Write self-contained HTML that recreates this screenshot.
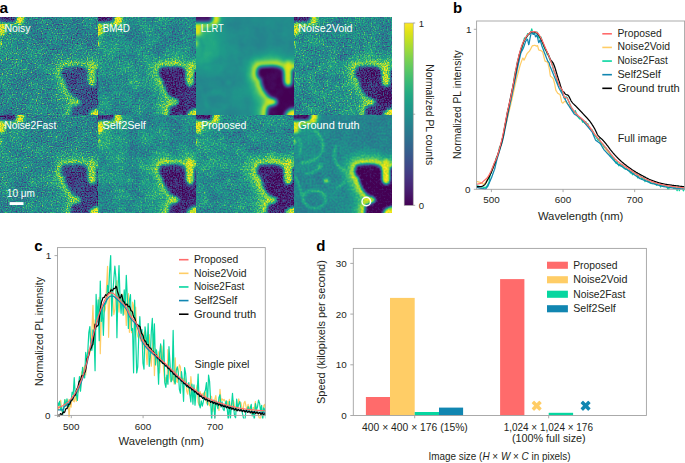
<!DOCTYPE html><html><head><meta charset="utf-8"><style>html,body{margin:0;padding:0;background:#fff;overflow:hidden;width:685px;height:463px;} svg{display:block;} text{font-family:"Liberation Sans", sans-serif;}</style></head><body>
<svg width="685" height="463" viewBox="0 0 685 463">
<rect width="685" height="463" fill="#fff"/>
<defs>
<clipPath id="cc"><rect x="0" y="0" width="98" height="98"/></clipPath>
<filter id="hb1" x="-20" y="-20" width="140" height="140" filterUnits="userSpaceOnUse"><feGaussianBlur stdDeviation="0.9"/></filter>
<filter id="hb" x="-20" y="-20" width="140" height="140" filterUnits="userSpaceOnUse"><feGaussianBlur stdDeviation="1.6"/></filter>
<filter id="hb2" x="-20" y="-20" width="140" height="140" filterUnits="userSpaceOnUse"><feGaussianBlur stdDeviation="4"/></filter>
<filter id="hb3" x="-20" y="-20" width="140" height="140" filterUnits="userSpaceOnUse"><feGaussianBlur stdDeviation="8"/></filter>
<filter id="f1" x="-6" y="-6" width="110" height="110" filterUnits="userSpaceOnUse" color-interpolation-filters="sRGB"><feGaussianBlur in="SourceGraphic" stdDeviation="0.2" result="s"/><feTurbulence type="fractalNoise" baseFrequency="0.8" numOctaves="1" seed="1" result="t"/><feColorMatrix in="t" type="matrix" values="1 0 0 0 0 1 0 0 0 0 1 0 0 0 0 0 0 0 0 1" result="gn"/><feTurbulence type="fractalNoise" baseFrequency="0.07" numOctaves="2" seed="21" result="t2"/><feColorMatrix in="t2" type="matrix" values="1 0 0 0 0 1 0 0 0 0 1 0 0 0 0 0 0 0 0 1" result="gl"/><feComposite in="s" in2="gl" operator="arithmetic" k1="0" k2="1" k3="0.22" k4="-0.1100" result="s2"/><feComposite in="s2" in2="gn" operator="arithmetic" k1="0" k2="1" k3="1.1" k4="-0.5500" result="s3"/><feTurbulence type="fractalNoise" baseFrequency="0.85" numOctaves="1" seed="41" result="t3"/><feColorMatrix in="t3" type="matrix" values="1 0 0 0 0 1 0 0 0 0 1 0 0 0 0 0 0 0 0 1"/><feComponentTransfer result="sp"><feFuncR type="linear" slope="4" intercept="-2.6"/><feFuncG type="linear" slope="4" intercept="-2.6"/><feFuncB type="linear" slope="4" intercept="-2.6"/></feComponentTransfer><feComposite in="s3" in2="sp" operator="arithmetic" k1="0" k2="1" k3="0.35" k4="0"/><feGaussianBlur stdDeviation="0.45"/><feComponentTransfer><feFuncR type="table" tableValues="0.2667 0.2784 0.2824 0.2745 0.2549 0.2314 0.2078 0.1843 0.1647 0.1451 0.1294 0.1176 0.1333 0.1843 0.2667 0.3686 0.4784 0.6078 0.7412 0.8745 0.9922"/><feFuncG type="table" tableValues="0.0039 0.0745 0.1412 0.2039 0.2667 0.3216 0.3725 0.4235 0.4706 0.5176 0.5686 0.6118 0.6588 0.7059 0.7490 0.7882 0.8196 0.8510 0.8745 0.8902 0.9059"/><feFuncB type="table" tableValues="0.3294 0.3961 0.4588 0.5020 0.5294 0.5451 0.5529 0.5569 0.5569 0.5569 0.5490 0.5373 0.5176 0.4863 0.4392 0.3843 0.3176 0.2353 0.1490 0.0941 0.1451"/></feComponentTransfer></filter>
<filter id="f2" x="-6" y="-6" width="110" height="110" filterUnits="userSpaceOnUse" color-interpolation-filters="sRGB"><feGaussianBlur in="SourceGraphic" stdDeviation="0.3" result="s"/><feTurbulence type="fractalNoise" baseFrequency="0.7" numOctaves="1" seed="2" result="t"/><feColorMatrix in="t" type="matrix" values="1 0 0 0 0 1 0 0 0 0 1 0 0 0 0 0 0 0 0 1" result="gn"/><feTurbulence type="fractalNoise" baseFrequency="0.07" numOctaves="2" seed="22" result="t2"/><feColorMatrix in="t2" type="matrix" values="1 0 0 0 0 1 0 0 0 0 1 0 0 0 0 0 0 0 0 1" result="gl"/><feComposite in="s" in2="gl" operator="arithmetic" k1="0" k2="1" k3="0.28" k4="-0.1400" result="s2"/><feComposite in="s2" in2="gn" operator="arithmetic" k1="0" k2="1" k3="0.85" k4="-0.4250" result="s3"/><feTurbulence type="fractalNoise" baseFrequency="0.85" numOctaves="1" seed="42" result="t3"/><feColorMatrix in="t3" type="matrix" values="1 0 0 0 0 1 0 0 0 0 1 0 0 0 0 0 0 0 0 1"/><feComponentTransfer result="sp"><feFuncR type="linear" slope="4" intercept="-2.6"/><feFuncG type="linear" slope="4" intercept="-2.6"/><feFuncB type="linear" slope="4" intercept="-2.6"/></feComponentTransfer><feComposite in="s3" in2="sp" operator="arithmetic" k1="0" k2="1" k3="0.3" k4="0"/><feGaussianBlur stdDeviation="0.4"/><feComponentTransfer><feFuncR type="table" tableValues="0.2667 0.2784 0.2824 0.2745 0.2549 0.2314 0.2078 0.1843 0.1647 0.1451 0.1294 0.1176 0.1333 0.1843 0.2667 0.3686 0.4784 0.6078 0.7412 0.8745 0.9922"/><feFuncG type="table" tableValues="0.0039 0.0745 0.1412 0.2039 0.2667 0.3216 0.3725 0.4235 0.4706 0.5176 0.5686 0.6118 0.6588 0.7059 0.7490 0.7882 0.8196 0.8510 0.8745 0.8902 0.9059"/><feFuncB type="table" tableValues="0.3294 0.3961 0.4588 0.5020 0.5294 0.5451 0.5529 0.5569 0.5569 0.5569 0.5490 0.5373 0.5176 0.4863 0.4392 0.3843 0.3176 0.2353 0.1490 0.0941 0.1451"/></feComponentTransfer></filter>
<filter id="f3" x="-6" y="-6" width="110" height="110" filterUnits="userSpaceOnUse" color-interpolation-filters="sRGB"><feGaussianBlur in="SourceGraphic" stdDeviation="1.3" result="s"/><feTurbulence type="fractalNoise" baseFrequency="0.3" numOctaves="1" seed="3" result="t"/><feColorMatrix in="t" type="matrix" values="1 0 0 0 0 1 0 0 0 0 1 0 0 0 0 0 0 0 0 1" result="gn"/><feTurbulence type="fractalNoise" baseFrequency="0.07" numOctaves="2" seed="23" result="t2"/><feColorMatrix in="t2" type="matrix" values="1 0 0 0 0 1 0 0 0 0 1 0 0 0 0 0 0 0 0 1" result="gl"/><feComposite in="s" in2="gl" operator="arithmetic" k1="0" k2="1" k3="0.1" k4="-0.0500" result="s2"/><feComposite in="s2" in2="gn" operator="arithmetic" k1="0" k2="1" k3="0.03" k4="-0.0150" result="s3"/><feTurbulence type="fractalNoise" baseFrequency="0.85" numOctaves="1" seed="43" result="t3"/><feColorMatrix in="t3" type="matrix" values="1 0 0 0 0 1 0 0 0 0 1 0 0 0 0 0 0 0 0 1"/><feComponentTransfer result="sp"><feFuncR type="linear" slope="4" intercept="-2.6"/><feFuncG type="linear" slope="4" intercept="-2.6"/><feFuncB type="linear" slope="4" intercept="-2.6"/></feComponentTransfer><feComposite in="s3" in2="sp" operator="arithmetic" k1="0" k2="1" k3="0" k4="0"/><feGaussianBlur stdDeviation="0.3"/><feComponentTransfer><feFuncR type="table" tableValues="0.2667 0.2784 0.2824 0.2745 0.2549 0.2314 0.2078 0.1843 0.1647 0.1451 0.1294 0.1176 0.1333 0.1843 0.2667 0.3686 0.4784 0.6078 0.7412 0.8745 0.9922"/><feFuncG type="table" tableValues="0.0039 0.0745 0.1412 0.2039 0.2667 0.3216 0.3725 0.4235 0.4706 0.5176 0.5686 0.6118 0.6588 0.7059 0.7490 0.7882 0.8196 0.8510 0.8745 0.8902 0.9059"/><feFuncB type="table" tableValues="0.3294 0.3961 0.4588 0.5020 0.5294 0.5451 0.5529 0.5569 0.5569 0.5569 0.5490 0.5373 0.5176 0.4863 0.4392 0.3843 0.3176 0.2353 0.1490 0.0941 0.1451"/></feComponentTransfer></filter>
<filter id="f4" x="-6" y="-6" width="110" height="110" filterUnits="userSpaceOnUse" color-interpolation-filters="sRGB"><feGaussianBlur in="SourceGraphic" stdDeviation="0.3" result="s"/><feTurbulence type="fractalNoise" baseFrequency="0.75" numOctaves="1" seed="4" result="t"/><feColorMatrix in="t" type="matrix" values="1 0 0 0 0 1 0 0 0 0 1 0 0 0 0 0 0 0 0 1" result="gn"/><feTurbulence type="fractalNoise" baseFrequency="0.07" numOctaves="2" seed="24" result="t2"/><feColorMatrix in="t2" type="matrix" values="1 0 0 0 0 1 0 0 0 0 1 0 0 0 0 0 0 0 0 1" result="gl"/><feComposite in="s" in2="gl" operator="arithmetic" k1="0" k2="1" k3="0.25" k4="-0.1250" result="s2"/><feComposite in="s2" in2="gn" operator="arithmetic" k1="0" k2="1" k3="0.95" k4="-0.4750" result="s3"/><feTurbulence type="fractalNoise" baseFrequency="0.85" numOctaves="1" seed="44" result="t3"/><feColorMatrix in="t3" type="matrix" values="1 0 0 0 0 1 0 0 0 0 1 0 0 0 0 0 0 0 0 1"/><feComponentTransfer result="sp"><feFuncR type="linear" slope="4" intercept="-2.6"/><feFuncG type="linear" slope="4" intercept="-2.6"/><feFuncB type="linear" slope="4" intercept="-2.6"/></feComponentTransfer><feComposite in="s3" in2="sp" operator="arithmetic" k1="0" k2="1" k3="0.35" k4="0"/><feGaussianBlur stdDeviation="0.4"/><feComponentTransfer><feFuncR type="table" tableValues="0.2667 0.2784 0.2824 0.2745 0.2549 0.2314 0.2078 0.1843 0.1647 0.1451 0.1294 0.1176 0.1333 0.1843 0.2667 0.3686 0.4784 0.6078 0.7412 0.8745 0.9922"/><feFuncG type="table" tableValues="0.0039 0.0745 0.1412 0.2039 0.2667 0.3216 0.3725 0.4235 0.4706 0.5176 0.5686 0.6118 0.6588 0.7059 0.7490 0.7882 0.8196 0.8510 0.8745 0.8902 0.9059"/><feFuncB type="table" tableValues="0.3294 0.3961 0.4588 0.5020 0.5294 0.5451 0.5529 0.5569 0.5569 0.5569 0.5490 0.5373 0.5176 0.4863 0.4392 0.3843 0.3176 0.2353 0.1490 0.0941 0.1451"/></feComponentTransfer></filter>
<filter id="f5" x="-6" y="-6" width="110" height="110" filterUnits="userSpaceOnUse" color-interpolation-filters="sRGB"><feGaussianBlur in="SourceGraphic" stdDeviation="0.2" result="s"/><feTurbulence type="fractalNoise" baseFrequency="0.8" numOctaves="1" seed="5" result="t"/><feColorMatrix in="t" type="matrix" values="1 0 0 0 0 1 0 0 0 0 1 0 0 0 0 0 0 0 0 1" result="gn"/><feTurbulence type="fractalNoise" baseFrequency="0.07" numOctaves="2" seed="25" result="t2"/><feColorMatrix in="t2" type="matrix" values="1 0 0 0 0 1 0 0 0 0 1 0 0 0 0 0 0 0 0 1" result="gl"/><feComposite in="s" in2="gl" operator="arithmetic" k1="0" k2="1" k3="0.22" k4="-0.1100" result="s2"/><feComposite in="s2" in2="gn" operator="arithmetic" k1="0" k2="1" k3="1.05" k4="-0.5250" result="s3"/><feTurbulence type="fractalNoise" baseFrequency="0.85" numOctaves="1" seed="45" result="t3"/><feColorMatrix in="t3" type="matrix" values="1 0 0 0 0 1 0 0 0 0 1 0 0 0 0 0 0 0 0 1"/><feComponentTransfer result="sp"><feFuncR type="linear" slope="4" intercept="-2.6"/><feFuncG type="linear" slope="4" intercept="-2.6"/><feFuncB type="linear" slope="4" intercept="-2.6"/></feComponentTransfer><feComposite in="s3" in2="sp" operator="arithmetic" k1="0" k2="1" k3="0.35" k4="0"/><feGaussianBlur stdDeviation="0.45"/><feComponentTransfer><feFuncR type="table" tableValues="0.2667 0.2784 0.2824 0.2745 0.2549 0.2314 0.2078 0.1843 0.1647 0.1451 0.1294 0.1176 0.1333 0.1843 0.2667 0.3686 0.4784 0.6078 0.7412 0.8745 0.9922"/><feFuncG type="table" tableValues="0.0039 0.0745 0.1412 0.2039 0.2667 0.3216 0.3725 0.4235 0.4706 0.5176 0.5686 0.6118 0.6588 0.7059 0.7490 0.7882 0.8196 0.8510 0.8745 0.8902 0.9059"/><feFuncB type="table" tableValues="0.3294 0.3961 0.4588 0.5020 0.5294 0.5451 0.5529 0.5569 0.5569 0.5569 0.5490 0.5373 0.5176 0.4863 0.4392 0.3843 0.3176 0.2353 0.1490 0.0941 0.1451"/></feComponentTransfer></filter>
<filter id="f6" x="-6" y="-6" width="110" height="110" filterUnits="userSpaceOnUse" color-interpolation-filters="sRGB"><feGaussianBlur in="SourceGraphic" stdDeviation="0.3" result="s"/><feTurbulence type="fractalNoise" baseFrequency="0.7" numOctaves="1" seed="6" result="t"/><feColorMatrix in="t" type="matrix" values="1 0 0 0 0 1 0 0 0 0 1 0 0 0 0 0 0 0 0 1" result="gn"/><feTurbulence type="fractalNoise" baseFrequency="0.07" numOctaves="2" seed="26" result="t2"/><feColorMatrix in="t2" type="matrix" values="1 0 0 0 0 1 0 0 0 0 1 0 0 0 0 0 0 0 0 1" result="gl"/><feComposite in="s" in2="gl" operator="arithmetic" k1="0" k2="1" k3="0.28" k4="-0.1400" result="s2"/><feComposite in="s2" in2="gn" operator="arithmetic" k1="0" k2="1" k3="0.75" k4="-0.3750" result="s3"/><feTurbulence type="fractalNoise" baseFrequency="0.85" numOctaves="1" seed="46" result="t3"/><feColorMatrix in="t3" type="matrix" values="1 0 0 0 0 1 0 0 0 0 1 0 0 0 0 0 0 0 0 1"/><feComponentTransfer result="sp"><feFuncR type="linear" slope="4" intercept="-2.6"/><feFuncG type="linear" slope="4" intercept="-2.6"/><feFuncB type="linear" slope="4" intercept="-2.6"/></feComponentTransfer><feComposite in="s3" in2="sp" operator="arithmetic" k1="0" k2="1" k3="0.3" k4="0"/><feGaussianBlur stdDeviation="0.3"/><feComponentTransfer><feFuncR type="table" tableValues="0.2667 0.2784 0.2824 0.2745 0.2549 0.2314 0.2078 0.1843 0.1647 0.1451 0.1294 0.1176 0.1333 0.1843 0.2667 0.3686 0.4784 0.6078 0.7412 0.8745 0.9922"/><feFuncG type="table" tableValues="0.0039 0.0745 0.1412 0.2039 0.2667 0.3216 0.3725 0.4235 0.4706 0.5176 0.5686 0.6118 0.6588 0.7059 0.7490 0.7882 0.8196 0.8510 0.8745 0.8902 0.9059"/><feFuncB type="table" tableValues="0.3294 0.3961 0.4588 0.5020 0.5294 0.5451 0.5529 0.5569 0.5569 0.5569 0.5490 0.5373 0.5176 0.4863 0.4392 0.3843 0.3176 0.2353 0.1490 0.0941 0.1451"/></feComponentTransfer></filter>
<filter id="f7" x="-6" y="-6" width="110" height="110" filterUnits="userSpaceOnUse" color-interpolation-filters="sRGB"><feGaussianBlur in="SourceGraphic" stdDeviation="0.3" result="s"/><feTurbulence type="fractalNoise" baseFrequency="0.7" numOctaves="1" seed="7" result="t"/><feColorMatrix in="t" type="matrix" values="1 0 0 0 0 1 0 0 0 0 1 0 0 0 0 0 0 0 0 1" result="gn"/><feTurbulence type="fractalNoise" baseFrequency="0.07" numOctaves="2" seed="27" result="t2"/><feColorMatrix in="t2" type="matrix" values="1 0 0 0 0 1 0 0 0 0 1 0 0 0 0 0 0 0 0 1" result="gl"/><feComposite in="s" in2="gl" operator="arithmetic" k1="0" k2="1" k3="0.28" k4="-0.1400" result="s2"/><feComposite in="s2" in2="gn" operator="arithmetic" k1="0" k2="1" k3="0.8" k4="-0.4000" result="s3"/><feTurbulence type="fractalNoise" baseFrequency="0.85" numOctaves="1" seed="47" result="t3"/><feColorMatrix in="t3" type="matrix" values="1 0 0 0 0 1 0 0 0 0 1 0 0 0 0 0 0 0 0 1"/><feComponentTransfer result="sp"><feFuncR type="linear" slope="4" intercept="-2.6"/><feFuncG type="linear" slope="4" intercept="-2.6"/><feFuncB type="linear" slope="4" intercept="-2.6"/></feComponentTransfer><feComposite in="s3" in2="sp" operator="arithmetic" k1="0" k2="1" k3="0.3" k4="0"/><feGaussianBlur stdDeviation="0.3"/><feComponentTransfer><feFuncR type="table" tableValues="0.2667 0.2784 0.2824 0.2745 0.2549 0.2314 0.2078 0.1843 0.1647 0.1451 0.1294 0.1176 0.1333 0.1843 0.2667 0.3686 0.4784 0.6078 0.7412 0.8745 0.9922"/><feFuncG type="table" tableValues="0.0039 0.0745 0.1412 0.2039 0.2667 0.3216 0.3725 0.4235 0.4706 0.5176 0.5686 0.6118 0.6588 0.7059 0.7490 0.7882 0.8196 0.8510 0.8745 0.8902 0.9059"/><feFuncB type="table" tableValues="0.3294 0.3961 0.4588 0.5020 0.5294 0.5451 0.5529 0.5569 0.5569 0.5569 0.5490 0.5373 0.5176 0.4863 0.4392 0.3843 0.3176 0.2353 0.1490 0.0941 0.1451"/></feComponentTransfer></filter>
<filter id="f8" x="-6" y="-6" width="110" height="110" filterUnits="userSpaceOnUse" color-interpolation-filters="sRGB"><feGaussianBlur in="SourceGraphic" stdDeviation="0.6" result="s"/><feTurbulence type="fractalNoise" baseFrequency="0.5" numOctaves="1" seed="8" result="t"/><feColorMatrix in="t" type="matrix" values="1 0 0 0 0 1 0 0 0 0 1 0 0 0 0 0 0 0 0 1" result="gn"/><feTurbulence type="fractalNoise" baseFrequency="0.07" numOctaves="2" seed="28" result="t2"/><feColorMatrix in="t2" type="matrix" values="1 0 0 0 0 1 0 0 0 0 1 0 0 0 0 0 0 0 0 1" result="gl"/><feComposite in="s" in2="gl" operator="arithmetic" k1="0" k2="1" k3="0.12" k4="-0.0600" result="s2"/><feComposite in="s2" in2="gn" operator="arithmetic" k1="0" k2="1" k3="0.25" k4="-0.1250" result="s3"/><feTurbulence type="fractalNoise" baseFrequency="0.85" numOctaves="1" seed="48" result="t3"/><feColorMatrix in="t3" type="matrix" values="1 0 0 0 0 1 0 0 0 0 1 0 0 0 0 0 0 0 0 1"/><feComponentTransfer result="sp"><feFuncR type="linear" slope="4" intercept="-2.6"/><feFuncG type="linear" slope="4" intercept="-2.6"/><feFuncB type="linear" slope="4" intercept="-2.6"/></feComponentTransfer><feComposite in="s3" in2="sp" operator="arithmetic" k1="0" k2="1" k3="0" k4="0"/><feGaussianBlur stdDeviation="0.3"/><feComponentTransfer><feFuncR type="table" tableValues="0.2667 0.2784 0.2824 0.2745 0.2549 0.2314 0.2078 0.1843 0.1647 0.1451 0.1294 0.1176 0.1333 0.1843 0.2667 0.3686 0.4784 0.6078 0.7412 0.8745 0.9922"/><feFuncG type="table" tableValues="0.0039 0.0745 0.1412 0.2039 0.2667 0.3216 0.3725 0.4235 0.4706 0.5176 0.5686 0.6118 0.6588 0.7059 0.7490 0.7882 0.8196 0.8510 0.8745 0.8902 0.9059"/><feFuncB type="table" tableValues="0.3294 0.3961 0.4588 0.5020 0.5294 0.5451 0.5529 0.5569 0.5569 0.5569 0.5490 0.5373 0.5176 0.4863 0.4392 0.3843 0.3176 0.2353 0.1490 0.0941 0.1451"/></feComponentTransfer></filter>
</defs>
<g transform="translate(0,17)" clip-path="url(#cc)">
<g filter="url(#f1)">
<rect x="-6" y="-6" width="110" height="110" fill="#717171"/>
<g filter="url(#hb3)"><ellipse cx="8" cy="26" rx="20" ry="30" fill="#808080"/><ellipse cx="48" cy="78" rx="10" ry="22" fill="#7e7e7e"/></g>
<g filter="url(#hb1)" fill="none" stroke="#868686" stroke-width="2"><path d="M20,15 C27,21 31,29 28,37 C25,43 16,48 6,48"/><path d="M4,22 C8,28 8,34 5,42"/><path d="M42,30 C39,38 40,46 45,52 C47,54 50,55 52,56"/><path d="M10.8,58.8 C15,59 20,58 27,52"/><path d="M8.6,82.6 C9,78 13,76 18,75.5 C24,75 29,77 31.5,82 C33,88 29,92 22,93.5 C16,94 10,90 8.6,82.6 Z"/><path d="M43,73 C46,71 48,69 51,67"/><path d="M0,60 C4,66 6,72 8,80"/></g>
<g filter="url(#hb)" fill="#a4a4a4"><ellipse cx="32.4" cy="65.8" rx="2.6" ry="2"/><ellipse cx="26" cy="51" rx="1.5" ry="1.3"/></g>
<g filter="url(#hb2)" fill="none"><path d="M61.7,52.3 C62.2,50.5 63.2,49.7 64.3,49.7 L75.9,49 C79,49 82,49.5 83.7,50.3 C86,51.2 87.4,52.5 87.6,53.6 C88.2,56 88.4,59 88.3,61.3 C88.3,64 89,68.5 92.2,68.5 C95,68.5 95.4,66 95.4,63 L95.4,54 C95.4,52.8 96.5,52.3 98,52.3 L104,52.3 L104,104 L70.8,104 L70.8,98 C70.8,95 71,93.5 71.4,92.5 C71.7,90.5 72,89.5 72.5,89.2 C74,88.7 75.5,88.3 76.5,87.7 C79,86.8 80.5,86.5 80.5,85 C80.5,83.5 79.5,83 78,82.5 C76.5,82 74.5,81 72.7,79.5 C71.5,78.5 70.8,77.5 70.2,76.5 C69,75 68.2,74.3 67.5,72.5 C66.9,70.4 65.5,67.5 64.9,65.9 C64.6,64.5 65.6,63.6 65,62.8 C64,62 62,61 61.7,60 C61,58 60.8,56.5 61,54.9 C61.1,53.8 61.3,53 61.7,52.3 Z" stroke="#8f8f8f" stroke-width="24"/><path d="M-6,-6 L16.5,-6 L16.5,1.5 C16.5,4.5 14.5,5.5 11.5,5.5 L-6,5.5 Z" stroke="#8a8a8a" stroke-width="14"/></g>
<g filter="url(#hb)"><path d="M61.7,52.3 C62.2,50.5 63.2,49.7 64.3,49.7 L75.9,49 C79,49 82,49.5 83.7,50.3 C86,51.2 87.4,52.5 87.6,53.6 C88.2,56 88.4,59 88.3,61.3 C88.3,64 89,68.5 92.2,68.5 C95,68.5 95.4,66 95.4,63 L95.4,54 C95.4,52.8 96.5,52.3 98,52.3 L104,52.3 L104,104 L70.8,104 L70.8,98 C70.8,95 71,93.5 71.4,92.5 C71.7,90.5 72,89.5 72.5,89.2 C74,88.7 75.5,88.3 76.5,87.7 C79,86.8 80.5,86.5 80.5,85 C80.5,83.5 79.5,83 78,82.5 C76.5,82 74.5,81 72.7,79.5 C71.5,78.5 70.8,77.5 70.2,76.5 C69,75 68.2,74.3 67.5,72.5 C66.9,70.4 65.5,67.5 64.9,65.9 C64.6,64.5 65.6,63.6 65,62.8 C64,62 62,61 61.7,60 C61,58 60.8,56.5 61,54.9 C61.1,53.8 61.3,53 61.7,52.3 Z" fill="none" stroke="#bdbdbd" stroke-width="10"/><path d="M-6,-6 L16.5,-6 L16.5,1.5 C16.5,4.5 14.5,5.5 11.5,5.5 L-6,5.5 Z" fill="none" stroke="#bdbdbd" stroke-width="7"/><rect x="-3" y="23.5" width="4.5" height="6" rx="2" fill="#f7f7f7"/><ellipse cx="19.5" cy="1.5" rx="4" ry="6.5" fill="#ffffff"/><rect x="-3" y="4.5" width="8.5" height="14" rx="3.5" fill="#f2f2f2"/></g>
<g filter="url(#hb)"><path d="M61.7,52.3 C62.2,50.5 63.2,49.7 64.3,49.7 L75.9,49 C79,49 82,49.5 83.7,50.3 C86,51.2 87.4,52.5 87.6,53.6 C88.2,56 88.4,59 88.3,61.3 C88.3,64 89,68.5 92.2,68.5 C95,68.5 95.4,66 95.4,63 L95.4,54 C95.4,52.8 96.5,52.3 98,52.3 L104,52.3 L104,104 L70.8,104 L70.8,98 C70.8,95 71,93.5 71.4,92.5 C71.7,90.5 72,89.5 72.5,89.2 C74,88.7 75.5,88.3 76.5,87.7 C79,86.8 80.5,86.5 80.5,85 C80.5,83.5 79.5,83 78,82.5 C76.5,82 74.5,81 72.7,79.5 C71.5,78.5 70.8,77.5 70.2,76.5 C69,75 68.2,74.3 67.5,72.5 C66.9,70.4 65.5,67.5 64.9,65.9 C64.6,64.5 65.6,63.6 65,62.8 C64,62 62,61 61.7,60 C61,58 60.8,56.5 61,54.9 C61.1,53.8 61.3,53 61.7,52.3 Z" fill="#404040"/><path d="M-6,-6 L16.5,-6 L16.5,1.5 C16.5,4.5 14.5,5.5 11.5,5.5 L-6,5.5 Z" fill="#2b2b2b"/></g>
<g filter="url(#hb)"><rect x="89" y="44" width="6.2" height="24.5" rx="3.1" fill="#c9c9c9"/><ellipse cx="99" cy="99" rx="10" ry="7.5" fill="#f7f7f7"/><ellipse cx="75.5" cy="85" rx="5" ry="2.8" fill="#bdbdbd"/></g>
</g>
</g>
<text x="4.50" y="31.50" font-size="10" text-anchor="start" fill="#fff" font-weight="normal" textLength="26.0" lengthAdjust="spacingAndGlyphs" >Noisy</text>
<g transform="translate(98,17)" clip-path="url(#cc)">
<g filter="url(#f2)">
<rect x="-6" y="-6" width="110" height="110" fill="#787878"/>
<g filter="url(#hb3)"><ellipse cx="8" cy="26" rx="20" ry="30" fill="#858585"/><ellipse cx="48" cy="78" rx="10" ry="22" fill="#858585"/></g>
<g filter="url(#hb1)" fill="none" stroke="#8c8c8c" stroke-width="2"><path d="M20,15 C27,21 31,29 28,37 C25,43 16,48 6,48"/><path d="M4,22 C8,28 8,34 5,42"/><path d="M42,30 C39,38 40,46 45,52 C47,54 50,55 52,56"/><path d="M10.8,58.8 C15,59 20,58 27,52"/><path d="M8.6,82.6 C9,78 13,76 18,75.5 C24,75 29,77 31.5,82 C33,88 29,92 22,93.5 C16,94 10,90 8.6,82.6 Z"/><path d="M43,73 C46,71 48,69 51,67"/><path d="M0,60 C4,66 6,72 8,80"/></g>
<g filter="url(#hb)" fill="#ababab"><ellipse cx="32.4" cy="65.8" rx="2.6" ry="2"/><ellipse cx="26" cy="51" rx="1.5" ry="1.3"/></g>
<g filter="url(#hb2)" fill="none"><path d="M61.7,52.3 C62.2,50.5 63.2,49.7 64.3,49.7 L75.9,49 C79,49 82,49.5 83.7,50.3 C86,51.2 87.4,52.5 87.6,53.6 C88.2,56 88.4,59 88.3,61.3 C88.3,64 89,68.5 92.2,68.5 C95,68.5 95.4,66 95.4,63 L95.4,54 C95.4,52.8 96.5,52.3 98,52.3 L104,52.3 L104,104 L70.8,104 L70.8,98 C70.8,95 71,93.5 71.4,92.5 C71.7,90.5 72,89.5 72.5,89.2 C74,88.7 75.5,88.3 76.5,87.7 C79,86.8 80.5,86.5 80.5,85 C80.5,83.5 79.5,83 78,82.5 C76.5,82 74.5,81 72.7,79.5 C71.5,78.5 70.8,77.5 70.2,76.5 C69,75 68.2,74.3 67.5,72.5 C66.9,70.4 65.5,67.5 64.9,65.9 C64.6,64.5 65.6,63.6 65,62.8 C64,62 62,61 61.7,60 C61,58 60.8,56.5 61,54.9 C61.1,53.8 61.3,53 61.7,52.3 Z" stroke="#9e9e9e" stroke-width="24"/><path d="M-6,-6 L16.5,-6 L16.5,1.5 C16.5,4.5 14.5,5.5 11.5,5.5 L-6,5.5 Z" stroke="#999999" stroke-width="14"/></g>
<g filter="url(#hb)"><path d="M61.7,52.3 C62.2,50.5 63.2,49.7 64.3,49.7 L75.9,49 C79,49 82,49.5 83.7,50.3 C86,51.2 87.4,52.5 87.6,53.6 C88.2,56 88.4,59 88.3,61.3 C88.3,64 89,68.5 92.2,68.5 C95,68.5 95.4,66 95.4,63 L95.4,54 C95.4,52.8 96.5,52.3 98,52.3 L104,52.3 L104,104 L70.8,104 L70.8,98 C70.8,95 71,93.5 71.4,92.5 C71.7,90.5 72,89.5 72.5,89.2 C74,88.7 75.5,88.3 76.5,87.7 C79,86.8 80.5,86.5 80.5,85 C80.5,83.5 79.5,83 78,82.5 C76.5,82 74.5,81 72.7,79.5 C71.5,78.5 70.8,77.5 70.2,76.5 C69,75 68.2,74.3 67.5,72.5 C66.9,70.4 65.5,67.5 64.9,65.9 C64.6,64.5 65.6,63.6 65,62.8 C64,62 62,61 61.7,60 C61,58 60.8,56.5 61,54.9 C61.1,53.8 61.3,53 61.7,52.3 Z" fill="none" stroke="#cccccc" stroke-width="9"/><path d="M-6,-6 L16.5,-6 L16.5,1.5 C16.5,4.5 14.5,5.5 11.5,5.5 L-6,5.5 Z" fill="none" stroke="#cccccc" stroke-width="7"/><rect x="-3" y="23.5" width="4.5" height="6" rx="2" fill="#f7f7f7"/><ellipse cx="19.5" cy="1.5" rx="4" ry="6.5" fill="#ffffff"/><rect x="-3" y="4.5" width="8.5" height="14" rx="3.5" fill="#f2f2f2"/></g>
<g filter="url(#hb)"><path d="M61.7,52.3 C62.2,50.5 63.2,49.7 64.3,49.7 L75.9,49 C79,49 82,49.5 83.7,50.3 C86,51.2 87.4,52.5 87.6,53.6 C88.2,56 88.4,59 88.3,61.3 C88.3,64 89,68.5 92.2,68.5 C95,68.5 95.4,66 95.4,63 L95.4,54 C95.4,52.8 96.5,52.3 98,52.3 L104,52.3 L104,104 L70.8,104 L70.8,98 C70.8,95 71,93.5 71.4,92.5 C71.7,90.5 72,89.5 72.5,89.2 C74,88.7 75.5,88.3 76.5,87.7 C79,86.8 80.5,86.5 80.5,85 C80.5,83.5 79.5,83 78,82.5 C76.5,82 74.5,81 72.7,79.5 C71.5,78.5 70.8,77.5 70.2,76.5 C69,75 68.2,74.3 67.5,72.5 C66.9,70.4 65.5,67.5 64.9,65.9 C64.6,64.5 65.6,63.6 65,62.8 C64,62 62,61 61.7,60 C61,58 60.8,56.5 61,54.9 C61.1,53.8 61.3,53 61.7,52.3 Z" fill="#1f1f1f"/><path d="M-6,-6 L16.5,-6 L16.5,1.5 C16.5,4.5 14.5,5.5 11.5,5.5 L-6,5.5 Z" fill="#171717"/></g>
<g filter="url(#hb)"><rect x="89" y="44" width="6.2" height="24.5" rx="3.1" fill="#d9d9d9"/><ellipse cx="99" cy="99" rx="10" ry="7.5" fill="#f7f7f7"/><ellipse cx="75.5" cy="85" rx="5" ry="2.8" fill="#cccccc"/></g>
</g>
</g>
<text x="102.65" y="31.80" font-size="10" text-anchor="start" fill="#fff" font-weight="normal" textLength="27.2" lengthAdjust="spacingAndGlyphs" >BM4D</text>
<g transform="translate(196,17)" clip-path="url(#cc)">
<g filter="url(#f3)">
<rect x="-6" y="-6" width="110" height="110" fill="#787878"/>
<g filter="url(#hb3)"><ellipse cx="8" cy="26" rx="20" ry="30" fill="#999999"/><ellipse cx="48" cy="78" rx="10" ry="22" fill="#858585"/></g>
<g filter="url(#hb1)" fill="none" stroke="#858585" stroke-width="2"><path d="M20,15 C27,21 31,29 28,37 C25,43 16,48 6,48"/><path d="M4,22 C8,28 8,34 5,42"/><path d="M42,30 C39,38 40,46 45,52 C47,54 50,55 52,56"/><path d="M10.8,58.8 C15,59 20,58 27,52"/><path d="M8.6,82.6 C9,78 13,76 18,75.5 C24,75 29,77 31.5,82 C33,88 29,92 22,93.5 C16,94 10,90 8.6,82.6 Z"/><path d="M43,73 C46,71 48,69 51,67"/><path d="M0,60 C4,66 6,72 8,80"/></g>
<g filter="url(#hb)" fill="#989898"><ellipse cx="32.4" cy="65.8" rx="2.6" ry="2"/><ellipse cx="26" cy="51" rx="1.5" ry="1.3"/></g>
<g filter="url(#hb2)" fill="none"><path d="M61.7,52.3 C62.2,50.5 63.2,49.7 64.3,49.7 L75.9,49 C79,49 82,49.5 83.7,50.3 C86,51.2 87.4,52.5 87.6,53.6 C88.2,56 88.4,59 88.3,61.3 C88.3,64 89,68.5 92.2,68.5 C95,68.5 95.4,66 95.4,63 L95.4,54 C95.4,52.8 96.5,52.3 98,52.3 L104,52.3 L104,104 L70.8,104 L70.8,98 C70.8,95 71,93.5 71.4,92.5 C71.7,90.5 72,89.5 72.5,89.2 C74,88.7 75.5,88.3 76.5,87.7 C79,86.8 80.5,86.5 80.5,85 C80.5,83.5 79.5,83 78,82.5 C76.5,82 74.5,81 72.7,79.5 C71.5,78.5 70.8,77.5 70.2,76.5 C69,75 68.2,74.3 67.5,72.5 C66.9,70.4 65.5,67.5 64.9,65.9 C64.6,64.5 65.6,63.6 65,62.8 C64,62 62,61 61.7,60 C61,58 60.8,56.5 61,54.9 C61.1,53.8 61.3,53 61.7,52.3 Z" stroke="#bdbdbd" stroke-width="20"/><path d="M-6,-6 L16.5,-6 L16.5,1.5 C16.5,4.5 14.5,5.5 11.5,5.5 L-6,5.5 Z" stroke="#b8b8b8" stroke-width="14"/></g>
<g filter="url(#hb)"><path d="M61.7,52.3 C62.2,50.5 63.2,49.7 64.3,49.7 L75.9,49 C79,49 82,49.5 83.7,50.3 C86,51.2 87.4,52.5 87.6,53.6 C88.2,56 88.4,59 88.3,61.3 C88.3,64 89,68.5 92.2,68.5 C95,68.5 95.4,66 95.4,63 L95.4,54 C95.4,52.8 96.5,52.3 98,52.3 L104,52.3 L104,104 L70.8,104 L70.8,98 C70.8,95 71,93.5 71.4,92.5 C71.7,90.5 72,89.5 72.5,89.2 C74,88.7 75.5,88.3 76.5,87.7 C79,86.8 80.5,86.5 80.5,85 C80.5,83.5 79.5,83 78,82.5 C76.5,82 74.5,81 72.7,79.5 C71.5,78.5 70.8,77.5 70.2,76.5 C69,75 68.2,74.3 67.5,72.5 C66.9,70.4 65.5,67.5 64.9,65.9 C64.6,64.5 65.6,63.6 65,62.8 C64,62 62,61 61.7,60 C61,58 60.8,56.5 61,54.9 C61.1,53.8 61.3,53 61.7,52.3 Z" fill="none" stroke="#ebebeb" stroke-width="10"/><path d="M-6,-6 L16.5,-6 L16.5,1.5 C16.5,4.5 14.5,5.5 11.5,5.5 L-6,5.5 Z" fill="none" stroke="#ebebeb" stroke-width="7"/><rect x="-3" y="23.5" width="4.5" height="6" rx="2" fill="#f7f7f7"/><ellipse cx="19.5" cy="1.5" rx="4" ry="6.5" fill="#ffffff"/><rect x="-3" y="4.5" width="8.5" height="14" rx="3.5" fill="#f2f2f2"/></g>
<g filter="url(#hb)"><path d="M61.7,52.3 C62.2,50.5 63.2,49.7 64.3,49.7 L75.9,49 C79,49 82,49.5 83.7,50.3 C86,51.2 87.4,52.5 87.6,53.6 C88.2,56 88.4,59 88.3,61.3 C88.3,64 89,68.5 92.2,68.5 C95,68.5 95.4,66 95.4,63 L95.4,54 C95.4,52.8 96.5,52.3 98,52.3 L104,52.3 L104,104 L70.8,104 L70.8,98 C70.8,95 71,93.5 71.4,92.5 C71.7,90.5 72,89.5 72.5,89.2 C74,88.7 75.5,88.3 76.5,87.7 C79,86.8 80.5,86.5 80.5,85 C80.5,83.5 79.5,83 78,82.5 C76.5,82 74.5,81 72.7,79.5 C71.5,78.5 70.8,77.5 70.2,76.5 C69,75 68.2,74.3 67.5,72.5 C66.9,70.4 65.5,67.5 64.9,65.9 C64.6,64.5 65.6,63.6 65,62.8 C64,62 62,61 61.7,60 C61,58 60.8,56.5 61,54.9 C61.1,53.8 61.3,53 61.7,52.3 Z" fill="#050505"/><path d="M-6,-6 L16.5,-6 L16.5,1.5 C16.5,4.5 14.5,5.5 11.5,5.5 L-6,5.5 Z" fill="#080808"/></g>
<g filter="url(#hb)"><rect x="89" y="44" width="6.2" height="24.5" rx="3.1" fill="#f7f7f7"/><ellipse cx="99" cy="99" rx="10" ry="7.5" fill="#f7f7f7"/><ellipse cx="75.5" cy="85" rx="5" ry="2.8" fill="#ebebeb"/></g>
</g>
</g>
<text x="201.10" y="31.60" font-size="10" text-anchor="start" fill="#fff" font-weight="normal" textLength="22.5" lengthAdjust="spacingAndGlyphs" >LLRT</text>
<g transform="translate(294,17)" clip-path="url(#cc)">
<g filter="url(#f4)">
<rect x="-6" y="-6" width="110" height="110" fill="#787878"/>
<g filter="url(#hb3)"><ellipse cx="8" cy="26" rx="20" ry="30" fill="#808080"/><ellipse cx="48" cy="78" rx="10" ry="22" fill="#858585"/></g>
<g filter="url(#hb1)" fill="none" stroke="#8c8c8c" stroke-width="2"><path d="M20,15 C27,21 31,29 28,37 C25,43 16,48 6,48"/><path d="M4,22 C8,28 8,34 5,42"/><path d="M42,30 C39,38 40,46 45,52 C47,54 50,55 52,56"/><path d="M10.8,58.8 C15,59 20,58 27,52"/><path d="M8.6,82.6 C9,78 13,76 18,75.5 C24,75 29,77 31.5,82 C33,88 29,92 22,93.5 C16,94 10,90 8.6,82.6 Z"/><path d="M43,73 C46,71 48,69 51,67"/><path d="M0,60 C4,66 6,72 8,80"/></g>
<g filter="url(#hb)" fill="#ababab"><ellipse cx="32.4" cy="65.8" rx="2.6" ry="2"/><ellipse cx="26" cy="51" rx="1.5" ry="1.3"/></g>
<g filter="url(#hb2)" fill="none"><path d="M61.7,52.3 C62.2,50.5 63.2,49.7 64.3,49.7 L75.9,49 C79,49 82,49.5 83.7,50.3 C86,51.2 87.4,52.5 87.6,53.6 C88.2,56 88.4,59 88.3,61.3 C88.3,64 89,68.5 92.2,68.5 C95,68.5 95.4,66 95.4,63 L95.4,54 C95.4,52.8 96.5,52.3 98,52.3 L104,52.3 L104,104 L70.8,104 L70.8,98 C70.8,95 71,93.5 71.4,92.5 C71.7,90.5 72,89.5 72.5,89.2 C74,88.7 75.5,88.3 76.5,87.7 C79,86.8 80.5,86.5 80.5,85 C80.5,83.5 79.5,83 78,82.5 C76.5,82 74.5,81 72.7,79.5 C71.5,78.5 70.8,77.5 70.2,76.5 C69,75 68.2,74.3 67.5,72.5 C66.9,70.4 65.5,67.5 64.9,65.9 C64.6,64.5 65.6,63.6 65,62.8 C64,62 62,61 61.7,60 C61,58 60.8,56.5 61,54.9 C61.1,53.8 61.3,53 61.7,52.3 Z" stroke="#9e9e9e" stroke-width="24"/><path d="M-6,-6 L16.5,-6 L16.5,1.5 C16.5,4.5 14.5,5.5 11.5,5.5 L-6,5.5 Z" stroke="#999999" stroke-width="14"/></g>
<g filter="url(#hb)"><path d="M61.7,52.3 C62.2,50.5 63.2,49.7 64.3,49.7 L75.9,49 C79,49 82,49.5 83.7,50.3 C86,51.2 87.4,52.5 87.6,53.6 C88.2,56 88.4,59 88.3,61.3 C88.3,64 89,68.5 92.2,68.5 C95,68.5 95.4,66 95.4,63 L95.4,54 C95.4,52.8 96.5,52.3 98,52.3 L104,52.3 L104,104 L70.8,104 L70.8,98 C70.8,95 71,93.5 71.4,92.5 C71.7,90.5 72,89.5 72.5,89.2 C74,88.7 75.5,88.3 76.5,87.7 C79,86.8 80.5,86.5 80.5,85 C80.5,83.5 79.5,83 78,82.5 C76.5,82 74.5,81 72.7,79.5 C71.5,78.5 70.8,77.5 70.2,76.5 C69,75 68.2,74.3 67.5,72.5 C66.9,70.4 65.5,67.5 64.9,65.9 C64.6,64.5 65.6,63.6 65,62.8 C64,62 62,61 61.7,60 C61,58 60.8,56.5 61,54.9 C61.1,53.8 61.3,53 61.7,52.3 Z" fill="none" stroke="#cccccc" stroke-width="10"/><path d="M-6,-6 L16.5,-6 L16.5,1.5 C16.5,4.5 14.5,5.5 11.5,5.5 L-6,5.5 Z" fill="none" stroke="#cccccc" stroke-width="7"/><rect x="-3" y="23.5" width="4.5" height="6" rx="2" fill="#f7f7f7"/><ellipse cx="19.5" cy="1.5" rx="4" ry="6.5" fill="#ffffff"/><rect x="-3" y="4.5" width="8.5" height="14" rx="3.5" fill="#f2f2f2"/></g>
<g filter="url(#hb)"><path d="M61.7,52.3 C62.2,50.5 63.2,49.7 64.3,49.7 L75.9,49 C79,49 82,49.5 83.7,50.3 C86,51.2 87.4,52.5 87.6,53.6 C88.2,56 88.4,59 88.3,61.3 C88.3,64 89,68.5 92.2,68.5 C95,68.5 95.4,66 95.4,63 L95.4,54 C95.4,52.8 96.5,52.3 98,52.3 L104,52.3 L104,104 L70.8,104 L70.8,98 C70.8,95 71,93.5 71.4,92.5 C71.7,90.5 72,89.5 72.5,89.2 C74,88.7 75.5,88.3 76.5,87.7 C79,86.8 80.5,86.5 80.5,85 C80.5,83.5 79.5,83 78,82.5 C76.5,82 74.5,81 72.7,79.5 C71.5,78.5 70.8,77.5 70.2,76.5 C69,75 68.2,74.3 67.5,72.5 C66.9,70.4 65.5,67.5 64.9,65.9 C64.6,64.5 65.6,63.6 65,62.8 C64,62 62,61 61.7,60 C61,58 60.8,56.5 61,54.9 C61.1,53.8 61.3,53 61.7,52.3 Z" fill="#1f1f1f"/><path d="M-6,-6 L16.5,-6 L16.5,1.5 C16.5,4.5 14.5,5.5 11.5,5.5 L-6,5.5 Z" fill="#171717"/></g>
<g filter="url(#hb)"><rect x="89" y="44" width="6.2" height="24.5" rx="3.1" fill="#d9d9d9"/><ellipse cx="99" cy="99" rx="10" ry="7.5" fill="#f7f7f7"/><ellipse cx="75.5" cy="85" rx="5" ry="2.8" fill="#cccccc"/></g>
</g>
</g>
<text x="298.30" y="31.80" font-size="10" text-anchor="start" fill="#fff" font-weight="normal" textLength="54.2" lengthAdjust="spacingAndGlyphs" >Noise2Void</text>
<g transform="translate(0,115)" clip-path="url(#cc)">
<g filter="url(#f5)">
<rect x="-6" y="-6" width="110" height="110" fill="#737373"/>
<g filter="url(#hb3)"><ellipse cx="8" cy="26" rx="20" ry="30" fill="#808080"/><ellipse cx="48" cy="78" rx="10" ry="22" fill="#808080"/></g>
<g filter="url(#hb1)" fill="none" stroke="#878787" stroke-width="2"><path d="M20,15 C27,21 31,29 28,37 C25,43 16,48 6,48"/><path d="M4,22 C8,28 8,34 5,42"/><path d="M42,30 C39,38 40,46 45,52 C47,54 50,55 52,56"/><path d="M10.8,58.8 C15,59 20,58 27,52"/><path d="M8.6,82.6 C9,78 13,76 18,75.5 C24,75 29,77 31.5,82 C33,88 29,92 22,93.5 C16,94 10,90 8.6,82.6 Z"/><path d="M43,73 C46,71 48,69 51,67"/><path d="M0,60 C4,66 6,72 8,80"/></g>
<g filter="url(#hb)" fill="#a6a6a6"><ellipse cx="32.4" cy="65.8" rx="2.6" ry="2"/><ellipse cx="26" cy="51" rx="1.5" ry="1.3"/></g>
<g filter="url(#hb2)" fill="none"><path d="M61.7,52.3 C62.2,50.5 63.2,49.7 64.3,49.7 L75.9,49 C79,49 82,49.5 83.7,50.3 C86,51.2 87.4,52.5 87.6,53.6 C88.2,56 88.4,59 88.3,61.3 C88.3,64 89,68.5 92.2,68.5 C95,68.5 95.4,66 95.4,63 L95.4,54 C95.4,52.8 96.5,52.3 98,52.3 L104,52.3 L104,104 L70.8,104 L70.8,98 C70.8,95 71,93.5 71.4,92.5 C71.7,90.5 72,89.5 72.5,89.2 C74,88.7 75.5,88.3 76.5,87.7 C79,86.8 80.5,86.5 80.5,85 C80.5,83.5 79.5,83 78,82.5 C76.5,82 74.5,81 72.7,79.5 C71.5,78.5 70.8,77.5 70.2,76.5 C69,75 68.2,74.3 67.5,72.5 C66.9,70.4 65.5,67.5 64.9,65.9 C64.6,64.5 65.6,63.6 65,62.8 C64,62 62,61 61.7,60 C61,58 60.8,56.5 61,54.9 C61.1,53.8 61.3,53 61.7,52.3 Z" stroke="#969696" stroke-width="24"/><path d="M-6,-6 L16.5,-6 L16.5,1.5 C16.5,4.5 14.5,5.5 11.5,5.5 L-6,5.5 Z" stroke="#919191" stroke-width="14"/></g>
<g filter="url(#hb)"><path d="M61.7,52.3 C62.2,50.5 63.2,49.7 64.3,49.7 L75.9,49 C79,49 82,49.5 83.7,50.3 C86,51.2 87.4,52.5 87.6,53.6 C88.2,56 88.4,59 88.3,61.3 C88.3,64 89,68.5 92.2,68.5 C95,68.5 95.4,66 95.4,63 L95.4,54 C95.4,52.8 96.5,52.3 98,52.3 L104,52.3 L104,104 L70.8,104 L70.8,98 C70.8,95 71,93.5 71.4,92.5 C71.7,90.5 72,89.5 72.5,89.2 C74,88.7 75.5,88.3 76.5,87.7 C79,86.8 80.5,86.5 80.5,85 C80.5,83.5 79.5,83 78,82.5 C76.5,82 74.5,81 72.7,79.5 C71.5,78.5 70.8,77.5 70.2,76.5 C69,75 68.2,74.3 67.5,72.5 C66.9,70.4 65.5,67.5 64.9,65.9 C64.6,64.5 65.6,63.6 65,62.8 C64,62 62,61 61.7,60 C61,58 60.8,56.5 61,54.9 C61.1,53.8 61.3,53 61.7,52.3 Z" fill="none" stroke="#c4c4c4" stroke-width="10"/><path d="M-6,-6 L16.5,-6 L16.5,1.5 C16.5,4.5 14.5,5.5 11.5,5.5 L-6,5.5 Z" fill="none" stroke="#c4c4c4" stroke-width="7"/><rect x="-3" y="23.5" width="4.5" height="6" rx="2" fill="#f7f7f7"/><ellipse cx="19.5" cy="1.5" rx="4" ry="6.5" fill="#ffffff"/><rect x="-3" y="4.5" width="8.5" height="14" rx="3.5" fill="#f2f2f2"/></g>
<g filter="url(#hb)"><path d="M61.7,52.3 C62.2,50.5 63.2,49.7 64.3,49.7 L75.9,49 C79,49 82,49.5 83.7,50.3 C86,51.2 87.4,52.5 87.6,53.6 C88.2,56 88.4,59 88.3,61.3 C88.3,64 89,68.5 92.2,68.5 C95,68.5 95.4,66 95.4,63 L95.4,54 C95.4,52.8 96.5,52.3 98,52.3 L104,52.3 L104,104 L70.8,104 L70.8,98 C70.8,95 71,93.5 71.4,92.5 C71.7,90.5 72,89.5 72.5,89.2 C74,88.7 75.5,88.3 76.5,87.7 C79,86.8 80.5,86.5 80.5,85 C80.5,83.5 79.5,83 78,82.5 C76.5,82 74.5,81 72.7,79.5 C71.5,78.5 70.8,77.5 70.2,76.5 C69,75 68.2,74.3 67.5,72.5 C66.9,70.4 65.5,67.5 64.9,65.9 C64.6,64.5 65.6,63.6 65,62.8 C64,62 62,61 61.7,60 C61,58 60.8,56.5 61,54.9 C61.1,53.8 61.3,53 61.7,52.3 Z" fill="#333333"/><path d="M-6,-6 L16.5,-6 L16.5,1.5 C16.5,4.5 14.5,5.5 11.5,5.5 L-6,5.5 Z" fill="#242424"/></g>
<g filter="url(#hb)"><rect x="89" y="44" width="6.2" height="24.5" rx="3.1" fill="#d1d1d1"/><ellipse cx="99" cy="99" rx="10" ry="7.5" fill="#f7f7f7"/><ellipse cx="75.5" cy="85" rx="5" ry="2.8" fill="#c4c4c4"/></g>
</g>
</g>
<text x="4.30" y="129.30" font-size="10" text-anchor="start" fill="#fff" font-weight="normal" textLength="52.0" lengthAdjust="spacingAndGlyphs" >Noise2Fast</text>
<g transform="translate(98,115)" clip-path="url(#cc)">
<g filter="url(#f6)">
<rect x="-6" y="-6" width="110" height="110" fill="#787878"/>
<g filter="url(#hb3)"><ellipse cx="8" cy="26" rx="20" ry="30" fill="#8c8c8c"/><ellipse cx="48" cy="78" rx="10" ry="22" fill="#858585"/></g>
<g filter="url(#hb1)" fill="none" stroke="#8c8c8c" stroke-width="2"><path d="M20,15 C27,21 31,29 28,37 C25,43 16,48 6,48"/><path d="M4,22 C8,28 8,34 5,42"/><path d="M42,30 C39,38 40,46 45,52 C47,54 50,55 52,56"/><path d="M10.8,58.8 C15,59 20,58 27,52"/><path d="M8.6,82.6 C9,78 13,76 18,75.5 C24,75 29,77 31.5,82 C33,88 29,92 22,93.5 C16,94 10,90 8.6,82.6 Z"/><path d="M43,73 C46,71 48,69 51,67"/><path d="M0,60 C4,66 6,72 8,80"/></g>
<g filter="url(#hb)" fill="#ababab"><ellipse cx="32.4" cy="65.8" rx="2.6" ry="2"/><ellipse cx="26" cy="51" rx="1.5" ry="1.3"/></g>
<g filter="url(#hb2)" fill="none"><path d="M61.7,52.3 C62.2,50.5 63.2,49.7 64.3,49.7 L75.9,49 C79,49 82,49.5 83.7,50.3 C86,51.2 87.4,52.5 87.6,53.6 C88.2,56 88.4,59 88.3,61.3 C88.3,64 89,68.5 92.2,68.5 C95,68.5 95.4,66 95.4,63 L95.4,54 C95.4,52.8 96.5,52.3 98,52.3 L104,52.3 L104,104 L70.8,104 L70.8,98 C70.8,95 71,93.5 71.4,92.5 C71.7,90.5 72,89.5 72.5,89.2 C74,88.7 75.5,88.3 76.5,87.7 C79,86.8 80.5,86.5 80.5,85 C80.5,83.5 79.5,83 78,82.5 C76.5,82 74.5,81 72.7,79.5 C71.5,78.5 70.8,77.5 70.2,76.5 C69,75 68.2,74.3 67.5,72.5 C66.9,70.4 65.5,67.5 64.9,65.9 C64.6,64.5 65.6,63.6 65,62.8 C64,62 62,61 61.7,60 C61,58 60.8,56.5 61,54.9 C61.1,53.8 61.3,53 61.7,52.3 Z" stroke="#a3a3a3" stroke-width="24"/><path d="M-6,-6 L16.5,-6 L16.5,1.5 C16.5,4.5 14.5,5.5 11.5,5.5 L-6,5.5 Z" stroke="#9e9e9e" stroke-width="14"/></g>
<g filter="url(#hb)"><path d="M61.7,52.3 C62.2,50.5 63.2,49.7 64.3,49.7 L75.9,49 C79,49 82,49.5 83.7,50.3 C86,51.2 87.4,52.5 87.6,53.6 C88.2,56 88.4,59 88.3,61.3 C88.3,64 89,68.5 92.2,68.5 C95,68.5 95.4,66 95.4,63 L95.4,54 C95.4,52.8 96.5,52.3 98,52.3 L104,52.3 L104,104 L70.8,104 L70.8,98 C70.8,95 71,93.5 71.4,92.5 C71.7,90.5 72,89.5 72.5,89.2 C74,88.7 75.5,88.3 76.5,87.7 C79,86.8 80.5,86.5 80.5,85 C80.5,83.5 79.5,83 78,82.5 C76.5,82 74.5,81 72.7,79.5 C71.5,78.5 70.8,77.5 70.2,76.5 C69,75 68.2,74.3 67.5,72.5 C66.9,70.4 65.5,67.5 64.9,65.9 C64.6,64.5 65.6,63.6 65,62.8 C64,62 62,61 61.7,60 C61,58 60.8,56.5 61,54.9 C61.1,53.8 61.3,53 61.7,52.3 Z" fill="none" stroke="#d1d1d1" stroke-width="9"/><path d="M-6,-6 L16.5,-6 L16.5,1.5 C16.5,4.5 14.5,5.5 11.5,5.5 L-6,5.5 Z" fill="none" stroke="#d1d1d1" stroke-width="7"/><rect x="-3" y="23.5" width="4.5" height="6" rx="2" fill="#f7f7f7"/><ellipse cx="19.5" cy="1.5" rx="4" ry="6.5" fill="#ffffff"/><rect x="-3" y="4.5" width="8.5" height="14" rx="3.5" fill="#f2f2f2"/></g>
<g filter="url(#hb)"><path d="M61.7,52.3 C62.2,50.5 63.2,49.7 64.3,49.7 L75.9,49 C79,49 82,49.5 83.7,50.3 C86,51.2 87.4,52.5 87.6,53.6 C88.2,56 88.4,59 88.3,61.3 C88.3,64 89,68.5 92.2,68.5 C95,68.5 95.4,66 95.4,63 L95.4,54 C95.4,52.8 96.5,52.3 98,52.3 L104,52.3 L104,104 L70.8,104 L70.8,98 C70.8,95 71,93.5 71.4,92.5 C71.7,90.5 72,89.5 72.5,89.2 C74,88.7 75.5,88.3 76.5,87.7 C79,86.8 80.5,86.5 80.5,85 C80.5,83.5 79.5,83 78,82.5 C76.5,82 74.5,81 72.7,79.5 C71.5,78.5 70.8,77.5 70.2,76.5 C69,75 68.2,74.3 67.5,72.5 C66.9,70.4 65.5,67.5 64.9,65.9 C64.6,64.5 65.6,63.6 65,62.8 C64,62 62,61 61.7,60 C61,58 60.8,56.5 61,54.9 C61.1,53.8 61.3,53 61.7,52.3 Z" fill="#1a1a1a"/><path d="M-6,-6 L16.5,-6 L16.5,1.5 C16.5,4.5 14.5,5.5 11.5,5.5 L-6,5.5 Z" fill="#141414"/></g>
<g filter="url(#hb)"><rect x="89" y="44" width="6.2" height="24.5" rx="3.1" fill="#dedede"/><ellipse cx="99" cy="99" rx="10" ry="7.5" fill="#f7f7f7"/><ellipse cx="75.5" cy="85" rx="5" ry="2.8" fill="#d1d1d1"/></g>
</g>
</g>
<text x="102.50" y="129.30" font-size="10" text-anchor="start" fill="#fff" font-weight="normal" textLength="43.3" lengthAdjust="spacingAndGlyphs" >Self2Self</text>
<g transform="translate(196,115)" clip-path="url(#cc)">
<g filter="url(#f7)">
<rect x="-6" y="-6" width="110" height="110" fill="#787878"/>
<g filter="url(#hb3)"><ellipse cx="8" cy="26" rx="20" ry="30" fill="#8c8c8c"/><ellipse cx="48" cy="78" rx="10" ry="22" fill="#858585"/></g>
<g filter="url(#hb1)" fill="none" stroke="#8c8c8c" stroke-width="2"><path d="M20,15 C27,21 31,29 28,37 C25,43 16,48 6,48"/><path d="M4,22 C8,28 8,34 5,42"/><path d="M42,30 C39,38 40,46 45,52 C47,54 50,55 52,56"/><path d="M10.8,58.8 C15,59 20,58 27,52"/><path d="M8.6,82.6 C9,78 13,76 18,75.5 C24,75 29,77 31.5,82 C33,88 29,92 22,93.5 C16,94 10,90 8.6,82.6 Z"/><path d="M43,73 C46,71 48,69 51,67"/><path d="M0,60 C4,66 6,72 8,80"/></g>
<g filter="url(#hb)" fill="#ababab"><ellipse cx="32.4" cy="65.8" rx="2.6" ry="2"/><ellipse cx="26" cy="51" rx="1.5" ry="1.3"/></g>
<g filter="url(#hb2)" fill="none"><path d="M61.7,52.3 C62.2,50.5 63.2,49.7 64.3,49.7 L75.9,49 C79,49 82,49.5 83.7,50.3 C86,51.2 87.4,52.5 87.6,53.6 C88.2,56 88.4,59 88.3,61.3 C88.3,64 89,68.5 92.2,68.5 C95,68.5 95.4,66 95.4,63 L95.4,54 C95.4,52.8 96.5,52.3 98,52.3 L104,52.3 L104,104 L70.8,104 L70.8,98 C70.8,95 71,93.5 71.4,92.5 C71.7,90.5 72,89.5 72.5,89.2 C74,88.7 75.5,88.3 76.5,87.7 C79,86.8 80.5,86.5 80.5,85 C80.5,83.5 79.5,83 78,82.5 C76.5,82 74.5,81 72.7,79.5 C71.5,78.5 70.8,77.5 70.2,76.5 C69,75 68.2,74.3 67.5,72.5 C66.9,70.4 65.5,67.5 64.9,65.9 C64.6,64.5 65.6,63.6 65,62.8 C64,62 62,61 61.7,60 C61,58 60.8,56.5 61,54.9 C61.1,53.8 61.3,53 61.7,52.3 Z" stroke="#ababab" stroke-width="24"/><path d="M-6,-6 L16.5,-6 L16.5,1.5 C16.5,4.5 14.5,5.5 11.5,5.5 L-6,5.5 Z" stroke="#a6a6a6" stroke-width="14"/></g>
<g filter="url(#hb)"><path d="M61.7,52.3 C62.2,50.5 63.2,49.7 64.3,49.7 L75.9,49 C79,49 82,49.5 83.7,50.3 C86,51.2 87.4,52.5 87.6,53.6 C88.2,56 88.4,59 88.3,61.3 C88.3,64 89,68.5 92.2,68.5 C95,68.5 95.4,66 95.4,63 L95.4,54 C95.4,52.8 96.5,52.3 98,52.3 L104,52.3 L104,104 L70.8,104 L70.8,98 C70.8,95 71,93.5 71.4,92.5 C71.7,90.5 72,89.5 72.5,89.2 C74,88.7 75.5,88.3 76.5,87.7 C79,86.8 80.5,86.5 80.5,85 C80.5,83.5 79.5,83 78,82.5 C76.5,82 74.5,81 72.7,79.5 C71.5,78.5 70.8,77.5 70.2,76.5 C69,75 68.2,74.3 67.5,72.5 C66.9,70.4 65.5,67.5 64.9,65.9 C64.6,64.5 65.6,63.6 65,62.8 C64,62 62,61 61.7,60 C61,58 60.8,56.5 61,54.9 C61.1,53.8 61.3,53 61.7,52.3 Z" fill="none" stroke="#d9d9d9" stroke-width="9"/><path d="M-6,-6 L16.5,-6 L16.5,1.5 C16.5,4.5 14.5,5.5 11.5,5.5 L-6,5.5 Z" fill="none" stroke="#d9d9d9" stroke-width="7"/><rect x="-3" y="23.5" width="4.5" height="6" rx="2" fill="#f7f7f7"/><ellipse cx="19.5" cy="1.5" rx="4" ry="6.5" fill="#ffffff"/><rect x="-3" y="4.5" width="8.5" height="14" rx="3.5" fill="#f2f2f2"/></g>
<g filter="url(#hb)"><path d="M61.7,52.3 C62.2,50.5 63.2,49.7 64.3,49.7 L75.9,49 C79,49 82,49.5 83.7,50.3 C86,51.2 87.4,52.5 87.6,53.6 C88.2,56 88.4,59 88.3,61.3 C88.3,64 89,68.5 92.2,68.5 C95,68.5 95.4,66 95.4,63 L95.4,54 C95.4,52.8 96.5,52.3 98,52.3 L104,52.3 L104,104 L70.8,104 L70.8,98 C70.8,95 71,93.5 71.4,92.5 C71.7,90.5 72,89.5 72.5,89.2 C74,88.7 75.5,88.3 76.5,87.7 C79,86.8 80.5,86.5 80.5,85 C80.5,83.5 79.5,83 78,82.5 C76.5,82 74.5,81 72.7,79.5 C71.5,78.5 70.8,77.5 70.2,76.5 C69,75 68.2,74.3 67.5,72.5 C66.9,70.4 65.5,67.5 64.9,65.9 C64.6,64.5 65.6,63.6 65,62.8 C64,62 62,61 61.7,60 C61,58 60.8,56.5 61,54.9 C61.1,53.8 61.3,53 61.7,52.3 Z" fill="#141414"/><path d="M-6,-6 L16.5,-6 L16.5,1.5 C16.5,4.5 14.5,5.5 11.5,5.5 L-6,5.5 Z" fill="#111111"/></g>
<g filter="url(#hb)"><rect x="89" y="44" width="6.2" height="24.5" rx="3.1" fill="#e6e6e6"/><ellipse cx="99" cy="99" rx="10" ry="7.5" fill="#f7f7f7"/><ellipse cx="75.5" cy="85" rx="5" ry="2.8" fill="#d9d9d9"/></g>
</g>
</g>
<text x="201.30" y="129.30" font-size="10" text-anchor="start" fill="#fff" font-weight="normal" textLength="45.1" lengthAdjust="spacingAndGlyphs" >Proposed</text>
<g transform="translate(294,115)" clip-path="url(#cc)">
<g filter="url(#f8)">
<rect x="-6" y="-6" width="110" height="110" fill="#737373"/>
<g filter="url(#hb3)"><ellipse cx="8" cy="26" rx="20" ry="30" fill="#808080"/><ellipse cx="48" cy="78" rx="10" ry="22" fill="#808080"/></g>
<g filter="url(#hb1)" fill="none" stroke="#b5b5b5" stroke-width="2"><path d="M20,15 C27,21 31,29 28,37 C25,43 16,48 6,48"/><path d="M4,22 C8,28 8,34 5,42"/><path d="M42,30 C39,38 40,46 45,52 C47,54 50,55 52,56"/><path d="M10.8,58.8 C15,59 20,58 27,52"/><path d="M8.6,82.6 C9,78 13,76 18,75.5 C24,75 29,77 31.5,82 C33,88 29,92 22,93.5 C16,94 10,90 8.6,82.6 Z"/><path d="M43,73 C46,71 48,69 51,67"/><path d="M0,60 C4,66 6,72 8,80"/></g>
<g filter="url(#hb)" fill="#ffffff"><ellipse cx="32.4" cy="65.8" rx="2.6" ry="2"/><ellipse cx="26" cy="51" rx="1.5" ry="1.3"/></g>
<g filter="url(#hb2)" fill="none"><path d="M61.7,52.3 C62.2,50.5 63.2,49.7 64.3,49.7 L75.9,49 C79,49 82,49.5 83.7,50.3 C86,51.2 87.4,52.5 87.6,53.6 C88.2,56 88.4,59 88.3,61.3 C88.3,64 89,68.5 92.2,68.5 C95,68.5 95.4,66 95.4,63 L95.4,54 C95.4,52.8 96.5,52.3 98,52.3 L104,52.3 L104,104 L70.8,104 L70.8,98 C70.8,95 71,93.5 71.4,92.5 C71.7,90.5 72,89.5 72.5,89.2 C74,88.7 75.5,88.3 76.5,87.7 C79,86.8 80.5,86.5 80.5,85 C80.5,83.5 79.5,83 78,82.5 C76.5,82 74.5,81 72.7,79.5 C71.5,78.5 70.8,77.5 70.2,76.5 C69,75 68.2,74.3 67.5,72.5 C66.9,70.4 65.5,67.5 64.9,65.9 C64.6,64.5 65.6,63.6 65,62.8 C64,62 62,61 61.7,60 C61,58 60.8,56.5 61,54.9 C61.1,53.8 61.3,53 61.7,52.3 Z" stroke="#bdbdbd" stroke-width="20"/><path d="M-6,-6 L16.5,-6 L16.5,1.5 C16.5,4.5 14.5,5.5 11.5,5.5 L-6,5.5 Z" stroke="#b8b8b8" stroke-width="14"/></g>
<g filter="url(#hb)"><path d="M61.7,52.3 C62.2,50.5 63.2,49.7 64.3,49.7 L75.9,49 C79,49 82,49.5 83.7,50.3 C86,51.2 87.4,52.5 87.6,53.6 C88.2,56 88.4,59 88.3,61.3 C88.3,64 89,68.5 92.2,68.5 C95,68.5 95.4,66 95.4,63 L95.4,54 C95.4,52.8 96.5,52.3 98,52.3 L104,52.3 L104,104 L70.8,104 L70.8,98 C70.8,95 71,93.5 71.4,92.5 C71.7,90.5 72,89.5 72.5,89.2 C74,88.7 75.5,88.3 76.5,87.7 C79,86.8 80.5,86.5 80.5,85 C80.5,83.5 79.5,83 78,82.5 C76.5,82 74.5,81 72.7,79.5 C71.5,78.5 70.8,77.5 70.2,76.5 C69,75 68.2,74.3 67.5,72.5 C66.9,70.4 65.5,67.5 64.9,65.9 C64.6,64.5 65.6,63.6 65,62.8 C64,62 62,61 61.7,60 C61,58 60.8,56.5 61,54.9 C61.1,53.8 61.3,53 61.7,52.3 Z" fill="none" stroke="#ebebeb" stroke-width="9"/><path d="M-6,-6 L16.5,-6 L16.5,1.5 C16.5,4.5 14.5,5.5 11.5,5.5 L-6,5.5 Z" fill="none" stroke="#ebebeb" stroke-width="7"/><rect x="-3" y="23.5" width="4.5" height="6" rx="2" fill="#f7f7f7"/><ellipse cx="19.5" cy="1.5" rx="4" ry="6.5" fill="#ffffff"/><rect x="-3" y="4.5" width="8.5" height="14" rx="3.5" fill="#f2f2f2"/></g>
<g filter="url(#hb)"><path d="M61.7,52.3 C62.2,50.5 63.2,49.7 64.3,49.7 L75.9,49 C79,49 82,49.5 83.7,50.3 C86,51.2 87.4,52.5 87.6,53.6 C88.2,56 88.4,59 88.3,61.3 C88.3,64 89,68.5 92.2,68.5 C95,68.5 95.4,66 95.4,63 L95.4,54 C95.4,52.8 96.5,52.3 98,52.3 L104,52.3 L104,104 L70.8,104 L70.8,98 C70.8,95 71,93.5 71.4,92.5 C71.7,90.5 72,89.5 72.5,89.2 C74,88.7 75.5,88.3 76.5,87.7 C79,86.8 80.5,86.5 80.5,85 C80.5,83.5 79.5,83 78,82.5 C76.5,82 74.5,81 72.7,79.5 C71.5,78.5 70.8,77.5 70.2,76.5 C69,75 68.2,74.3 67.5,72.5 C66.9,70.4 65.5,67.5 64.9,65.9 C64.6,64.5 65.6,63.6 65,62.8 C64,62 62,61 61.7,60 C61,58 60.8,56.5 61,54.9 C61.1,53.8 61.3,53 61.7,52.3 Z" fill="#050505"/><path d="M-6,-6 L16.5,-6 L16.5,1.5 C16.5,4.5 14.5,5.5 11.5,5.5 L-6,5.5 Z" fill="#080808"/></g>
<g filter="url(#hb)"><rect x="89" y="44" width="6.2" height="24.5" rx="3.1" fill="#f7f7f7"/><ellipse cx="99" cy="99" rx="10" ry="7.5" fill="#f7f7f7"/><ellipse cx="75.5" cy="85" rx="5" ry="2.8" fill="#ebebeb"/></g>
</g>
</g>
<text x="298.30" y="129.30" font-size="10" text-anchor="start" fill="#fff" font-weight="normal" textLength="61.4" lengthAdjust="spacingAndGlyphs" >Ground truth</text>
<circle cx="366.3" cy="201.5" r="4.3" fill="none" stroke="#fff" stroke-width="1.4"/>
<rect x="9.6" y="202.1" width="13.9" height="2.9" fill="#fff"/>
<text x="6.80" y="197.00" font-size="10.6" text-anchor="start" fill="#fff" font-weight="normal" textLength="28.2" lengthAdjust="spacingAndGlyphs" >10 μm</text>
<text x="-0.60" y="12.60" font-size="15.5" text-anchor="start" fill="#000" font-weight="bold" >a</text>
<defs><linearGradient id="cb" x1="0" y1="0" x2="0" y2="1"><stop offset="0.000" stop-color="#fde725"/><stop offset="0.050" stop-color="#dfe318"/><stop offset="0.100" stop-color="#bddf26"/><stop offset="0.150" stop-color="#9bd93c"/><stop offset="0.200" stop-color="#7ad151"/><stop offset="0.250" stop-color="#5ec962"/><stop offset="0.300" stop-color="#44bf70"/><stop offset="0.350" stop-color="#2fb47c"/><stop offset="0.400" stop-color="#22a884"/><stop offset="0.450" stop-color="#1e9c89"/><stop offset="0.500" stop-color="#21918c"/><stop offset="0.550" stop-color="#25848e"/><stop offset="0.600" stop-color="#2a788e"/><stop offset="0.650" stop-color="#2f6c8e"/><stop offset="0.700" stop-color="#355f8d"/><stop offset="0.750" stop-color="#3b528b"/><stop offset="0.800" stop-color="#414487"/><stop offset="0.850" stop-color="#463480"/><stop offset="0.900" stop-color="#482475"/><stop offset="0.950" stop-color="#471365"/><stop offset="1.000" stop-color="#440154"/></linearGradient></defs>
<rect x="404.2" y="23" width="9" height="182.3" fill="url(#cb)" stroke="#9a9a9a" stroke-width="0.6"/>
<line x1="413.2" y1="23" x2="415.2" y2="23" stroke="#777" stroke-width="0.6"/>
<line x1="413.2" y1="114.2" x2="415.2" y2="114.2" stroke="#777" stroke-width="0.6"/>
<line x1="413.2" y1="205.3" x2="415.2" y2="205.3" stroke="#777" stroke-width="0.6"/>
<text x="418.80" y="26.80" font-size="9.6" text-anchor="start" fill="#231f20" font-weight="normal" >1</text>
<text x="418.80" y="208.60" font-size="9.6" text-anchor="start" fill="#231f20" font-weight="normal" >0</text>
<text transform="translate(426.1,64.2) rotate(90)" x="0" y="0" font-size="11" fill="#231f20" textLength="100.9" lengthAdjust="spacingAndGlyphs">Normalized PL counts</text>
<defs><clipPath id="cb_b"><rect x="476.6" y="16.0" width="208.0" height="178.3"/></clipPath></defs>
<g clip-path="url(#cb_b)" fill="none" stroke-width="1.25" stroke-linejoin="round">
<path d="M475.64,181.30 L476.00,181.35 L476.35,181.40 L476.71,181.45 L477.07,181.54 L477.43,181.64 L477.79,181.74 L478.14,181.83 L478.50,181.93 L478.86,182.03 L479.22,182.13 L479.58,182.23 L479.94,182.32 L480.29,182.42 L480.65,182.52 L481.01,182.67 L481.37,182.89 L481.73,183.12 L482.09,183.34 L482.44,183.56 L482.80,183.79 L483.16,184.01 L483.52,184.23 L483.88,184.46 L484.23,184.10 L484.59,183.60 L484.95,183.10 L485.31,182.60 L485.67,182.10 L486.03,181.60 L486.38,181.00 L486.74,180.25 L487.10,179.50 L487.46,178.75 L487.82,178.00 L488.18,177.25 L488.53,176.50 L488.89,175.90 L489.25,175.30 L489.61,174.70 L489.97,174.10 L490.33,173.50 L490.68,172.90 L491.04,172.30 L491.40,171.70 L491.76,170.90 L492.12,170.10 L492.47,169.30 L492.83,168.50 L493.19,167.70 L493.55,166.90 L493.91,166.10 L494.27,165.30 L494.62,164.50 L494.98,163.70 L495.34,162.90 L495.70,162.10 L496.06,160.97 L496.42,159.84 L496.77,158.71 L497.13,157.58 L497.49,156.45 L497.85,155.32 L498.21,154.19 L498.56,153.06 L498.92,151.94 L499.28,150.81 L499.64,149.68 L500.00,148.55 L500.36,147.42 L500.71,146.29 L501.07,145.16 L501.43,144.03 L501.79,142.90 L502.15,141.30 L502.51,139.70 L502.86,138.10 L503.22,136.50 L503.58,134.90 L503.94,133.30 L504.30,131.70 L504.66,130.10 L505.01,128.50 L505.37,126.90 L505.73,125.30 L506.09,123.81 L506.45,122.33 L506.80,120.84 L507.16,119.36 L507.52,117.87 L507.88,116.39 L508.24,114.90 L508.60,113.41 L508.95,111.93 L509.31,110.44 L509.67,108.96 L510.03,107.47 L510.39,105.99 L510.75,104.50 L511.10,102.90 L511.46,101.30 L511.82,99.70 L512.18,98.10 L512.54,96.50 L512.89,94.90 L513.25,93.30 L513.61,91.70 L513.97,90.10 L514.33,88.50 L514.69,86.90 L515.04,85.30 L515.40,83.70 L515.76,82.10 L516.12,80.50 L516.48,78.90 L516.84,77.57 L517.19,76.23 L517.55,74.90 L517.91,73.57 L518.27,72.23 L518.63,70.90 L518.99,69.55 L519.34,68.21 L519.70,66.86 L520.06,65.52 L520.42,64.38 L520.78,63.38 L521.13,62.38 L521.49,61.38 L521.85,60.38 L522.21,59.38 L522.57,58.38 L522.93,58.06 L523.28,58.78 L523.64,59.49 L524.00,60.20 L524.36,59.68 L524.72,58.87 L525.08,58.05 L525.43,57.23 L525.79,56.41 L526.15,55.59 L526.51,54.77 L526.87,53.95 L527.23,53.32 L527.58,52.96 L527.94,52.61 L528.30,52.25 L528.66,51.90 L529.02,51.54 L529.37,51.18 L529.73,50.76 L530.09,50.07 L530.45,49.38 L530.81,48.69 L531.17,47.99 L531.52,47.30 L531.88,46.61 L532.24,45.92 L532.60,45.73 L532.96,45.66 L533.32,45.59 L533.67,45.53 L534.03,45.46 L534.39,45.39 L534.75,45.33 L535.11,45.42 L535.46,45.62 L535.82,45.82 L536.18,46.02 L536.54,46.22 L536.90,45.94 L537.26,45.54 L537.61,45.83 L537.97,47.17 L538.33,48.50 L538.69,49.83 L539.05,50.16 L539.41,50.24 L539.76,50.32 L540.12,50.40 L540.48,50.48 L540.84,50.56 L541.20,50.79 L541.55,51.06 L541.91,51.33 L542.27,51.59 L542.63,51.86 L542.99,53.27 L543.35,54.67 L543.70,56.08 L544.06,57.48 L544.42,58.89 L544.78,60.30 L545.14,61.20 L545.50,61.35 L545.85,61.49 L546.21,61.64 L546.57,61.79 L546.93,61.94 L547.29,62.08 L547.65,62.23 L548.00,63.42 L548.36,64.88 L548.72,66.33 L549.08,67.79 L549.44,69.66 L549.79,72.17 L550.15,74.68 L550.51,76.29 L550.87,76.56 L551.23,76.84 L551.59,77.11 L551.94,77.38 L552.30,77.66 L552.66,77.93 L553.02,78.21 L553.38,79.25 L553.74,80.49 L554.09,81.72 L554.45,82.96 L554.81,84.52 L555.17,86.57 L555.53,88.62 L555.88,90.37 L556.24,90.92 L556.60,91.47 L556.96,92.03 L557.32,92.58 L557.68,93.13 L558.03,93.53 L558.39,93.69 L558.75,93.86 L559.11,94.03 L559.47,94.20 L559.83,94.37 L560.18,94.85 L560.54,96.57 L560.90,98.30 L561.26,100.03 L561.62,101.75 L561.98,102.38 L562.33,102.73 L562.69,103.08 L563.05,103.00 L563.41,102.62 L563.77,102.25 L564.12,101.88 L564.48,101.50 L564.84,101.13 L565.20,101.21 L565.56,101.60 L565.92,101.99 L566.27,102.38 L566.63,102.77 L566.99,103.16 L567.35,103.54 L567.71,103.98 L568.07,104.44 L568.42,104.90 L568.78,105.36 L569.14,105.82 L569.50,106.28 L569.86,106.74 L570.21,107.20 L570.57,107.66 L570.93,108.12 L571.29,108.58 L571.65,109.04 L572.01,109.50 L572.36,109.96 L572.72,110.42 L573.08,110.88 L573.44,111.34 L573.80,111.80 L574.16,112.26 L574.51,112.72 L574.87,113.18 L575.23,113.64 L575.59,114.10 L575.95,114.56 L576.31,114.95 L576.66,115.30 L577.02,115.65 L577.38,115.99 L577.74,116.34 L578.10,116.69 L578.45,117.04 L578.81,117.39 L579.17,117.73 L579.53,118.08 L579.89,118.43 L580.25,118.78 L580.60,119.13 L580.96,119.47 L581.32,119.82 L581.68,120.17 L582.04,120.52 L582.40,120.87 L582.75,121.22 L583.11,121.56 L583.47,121.91 L583.83,122.26 L584.19,122.61 L584.54,122.96 L584.90,123.30 L585.26,123.65 L585.62,124.00 L585.98,124.35 L586.34,124.70 L586.69,125.05 L587.05,125.39 L587.41,125.74 L587.77,126.09 L588.13,126.44 L588.49,126.79 L588.84,127.13 L589.20,127.48 L589.56,127.83 L589.92,128.18 L590.28,128.53 L590.64,128.87 L590.99,129.22 L591.35,129.57 L591.71,129.99 L592.07,130.50 L592.43,131.02 L592.78,131.53 L593.14,132.05 L593.50,132.56 L593.86,133.08 L594.22,133.59 L594.58,134.11 L594.93,134.62 L595.29,135.14 L595.65,135.65 L596.01,136.17 L596.37,136.68 L596.73,137.20 L597.08,137.71 L597.44,138.23 L597.80,138.74 L598.16,139.26 L598.52,139.77 L598.88,140.29 L599.23,140.80 L599.59,141.32 L599.95,141.83 L600.31,142.35 L600.67,142.86 L601.02,143.38 L601.38,143.89 L601.74,144.41 L602.10,144.91 L602.46,145.34 L602.82,145.78 L603.17,146.22 L603.53,146.66 L603.89,147.09 L604.25,147.53 L604.61,147.97 L604.97,148.40 L605.32,148.84 L605.68,149.28 L606.04,149.72 L606.40,150.15 L606.76,150.59 L607.11,151.03 L607.47,151.46 L607.83,151.90 L608.19,152.34 L608.55,152.77 L608.91,153.21 L609.26,153.65 L609.62,154.09 L609.98,154.52 L610.34,154.96 L610.70,155.40 L611.06,155.83 L611.41,156.27 L611.77,156.71 L612.13,157.15 L612.49,157.58 L612.85,158.02 L613.20,158.46 L613.56,158.89 L613.92,159.33 L614.28,159.77 L614.64,160.20 L615.00,160.64 L615.35,161.08 L615.71,161.52 L616.07,161.95 L616.43,162.39 L616.79,162.79 L617.15,163.01 L617.50,163.24 L617.86,163.46 L618.22,163.69 L618.58,163.91 L618.94,164.14 L619.30,164.37 L619.65,164.59 L620.01,164.82 L620.37,165.04 L620.73,165.27 L621.09,165.49 L621.44,165.72 L621.80,165.95 L622.16,166.17 L622.52,166.40 L622.88,166.62 L623.24,166.85 L623.59,167.07 L623.95,167.30 L624.31,167.53 L624.67,167.75 L625.03,167.98 L625.39,168.20 L625.74,168.43 L626.10,168.66 L626.46,168.88 L626.82,169.11 L627.18,169.33 L627.53,169.56 L627.89,169.78 L628.25,170.01 L628.61,170.25 L628.97,170.50 L629.33,170.74 L629.68,170.99 L630.04,171.24 L630.40,171.48 L630.76,171.73 L631.12,171.98 L631.48,172.22 L631.83,172.47 L632.19,172.72 L632.55,172.96 L632.91,173.21 L633.27,173.46 L633.63,173.70 L633.98,173.95 L634.34,174.20 L634.70,174.45 L635.06,174.69 L635.42,174.94 L635.77,175.19 L636.13,175.43 L636.49,175.68 L636.85,175.93 L637.21,176.17 L637.57,176.42 L637.92,176.67 L638.28,176.91 L638.64,177.16 L639.00,177.41 L639.36,177.66 L639.72,177.90 L640.07,178.13 L640.43,178.28 L640.79,178.42 L641.15,178.57 L641.51,178.72 L641.87,178.87 L642.22,179.01 L642.58,179.16 L642.94,179.31 L643.30,179.45 L643.66,179.60 L644.01,179.75 L644.37,179.90 L644.73,180.04 L645.09,180.19 L645.45,180.34 L645.81,180.49 L646.16,180.63 L646.52,180.78 L646.88,180.93 L647.24,181.07 L647.60,181.22 L647.96,181.37 L648.31,181.52 L648.67,181.66 L649.03,181.81 L649.39,181.96 L649.75,182.10 L650.10,182.25 L650.46,182.40 L650.82,182.55 L651.18,182.69 L651.54,182.84 L651.90,182.96 L652.25,183.06 L652.61,183.16 L652.97,183.25 L653.33,183.35 L653.69,183.45 L654.05,183.55 L654.40,183.65 L654.76,183.74 L655.12,183.84 L655.48,183.94 L655.84,184.04 L656.19,184.14 L656.55,184.23 L656.91,184.33 L657.27,184.43 L657.63,184.53 L657.99,184.63 L658.34,184.73 L658.70,184.82 L659.06,184.92 L659.42,185.02 L659.78,185.12 L660.14,185.22 L660.49,185.31 L660.85,185.41 L661.21,185.51 L661.57,185.61 L661.93,185.71 L662.29,185.81 L662.64,185.90 L663.00,186.00 L663.36,186.10 L663.72,186.14 L664.08,186.18 L664.43,186.22 L664.79,186.26 L665.15,186.30 L665.51,186.34 L665.87,186.38 L666.23,186.42 L666.58,186.46 L666.94,186.50 L667.30,186.54 L667.66,186.58 L668.02,186.62 L668.38,186.66 L668.73,186.70 L669.09,186.74 L669.45,186.78 L669.81,186.82 L670.17,186.86 L670.52,186.90 L670.88,186.94 L671.24,186.98 L671.60,187.02 L671.96,187.06 L672.32,187.10 L672.67,187.14 L673.03,187.18 L673.39,187.22 L673.75,187.26 L674.11,187.30 L674.47,187.34 L674.82,187.38 L675.18,187.42 L675.54,187.46 L675.90,187.50 L676.26,187.54 L676.62,187.58 L676.97,187.62 L677.33,187.66 L677.69,187.70 L678.05,187.74 L678.41,187.78 L678.76,187.82 L679.12,187.86 L679.48,187.90 L679.84,187.94 L680.20,187.98 L680.56,188.02 L680.91,188.06 L681.27,188.10 L681.63,188.14 L681.99,188.18 L682.35,188.22 L682.71,188.26 L683.06,188.30 L683.42,188.34 L683.78,188.38 L684.14,188.42 L684.50,188.46 L684.86,188.50 L685.21,188.54 L685.57,188.58 L685.93,188.62 L686.29,188.66" stroke="#FFCD66"/>
<path d="M475.64,182.66 L476.68,185.76 L477.71,185.97 L478.75,186.24 L479.79,186.51 L480.83,186.73 L481.87,186.92 L482.91,187.10 L483.95,187.26 L484.99,187.36 L486.03,187.26 L487.07,185.94 L488.10,184.17 L489.14,182.01 L490.18,174.08 L491.22,173.47 L492.26,168.49 L493.30,166.33 L494.34,163.52 L495.38,163.70 L496.42,157.32 L497.45,156.33 L498.49,153.71 L499.53,146.96 L500.57,145.70 L501.61,143.40 L502.65,137.61 L503.69,134.95 L504.73,125.25 L505.77,121.59 L506.80,116.64 L507.84,109.37 L508.88,108.52 L509.92,101.42 L510.96,99.82 L512.00,92.62 L513.04,87.70 L514.08,78.61 L515.12,72.18 L516.16,69.04 L517.19,62.56 L518.23,59.40 L519.27,54.39 L520.31,52.47 L521.35,50.39 L522.39,47.52 L523.43,42.23 L524.47,37.80 L525.51,38.51 L526.54,37.95 L527.58,33.54 L528.62,34.64 L529.66,33.81 L530.70,32.77 L531.74,28.82 L532.78,32.91 L533.82,34.45 L534.86,32.17 L535.89,33.20 L536.93,31.92 L537.97,34.82 L539.01,38.21 L540.05,37.58 L541.09,37.03 L542.13,41.73 L543.17,44.75 L544.21,47.65 L545.24,49.93 L546.28,51.32 L547.32,54.79 L548.36,53.79 L549.40,58.64 L550.44,60.98 L551.48,62.33 L552.52,65.24 L553.56,70.39 L554.60,72.61 L555.63,74.98 L556.67,79.18 L557.71,84.22 L558.75,83.92 L559.79,86.06 L560.83,88.52 L561.87,91.60 L562.91,93.21 L563.95,97.90 L564.98,98.94 L566.02,96.77 L567.06,97.22 L568.10,100.03 L569.14,102.45 L570.18,104.74 L571.22,107.86 L572.26,109.62 L573.30,111.80 L574.33,112.34 L575.37,110.63 L576.41,113.59 L577.45,116.25 L578.49,117.45 L579.53,118.88 L580.57,118.16 L581.61,118.99 L582.65,122.22 L583.69,120.70 L584.72,123.09 L585.76,121.62 L586.80,124.38 L587.84,123.57 L588.88,127.59 L589.92,128.66 L590.96,129.31 L592.00,129.84 L593.04,132.01 L594.07,135.85 L595.11,135.49 L596.15,137.04 L597.19,138.88 L598.23,140.38 L599.27,138.50 L600.31,142.44 L601.35,144.24 L602.39,143.61 L603.42,145.54 L604.46,147.10 L605.50,147.30 L606.54,148.93 L607.58,150.38 L608.62,150.91 L609.66,153.10 L610.70,155.57 L611.74,156.53 L612.78,157.99 L613.81,158.25 L614.85,161.03 L615.89,163.05 L616.93,161.53 L617.97,164.23 L619.01,165.84 L620.05,163.64 L621.09,165.76 L622.13,164.92 L623.16,166.92 L624.20,168.35 L625.24,169.17 L626.28,168.90 L627.32,169.26 L628.36,170.65 L629.40,170.66 L630.44,172.98 L631.48,171.71 L632.51,174.74 L633.55,173.40 L634.59,172.95 L635.63,173.13 L636.67,173.00 L637.71,177.83 L638.75,175.47 L639.79,175.48 L640.83,176.32 L641.86,179.30 L642.90,178.11 L643.94,176.76 L644.98,181.55 L646.02,179.50 L647.06,179.15 L648.10,181.91 L649.14,180.70 L650.18,183.23 L651.22,183.29 L652.25,183.67 L653.29,182.75 L654.33,183.48 L655.37,182.50 L656.41,185.27 L657.45,184.57 L658.49,183.49 L659.53,184.30 L660.57,187.00 L661.60,184.71 L662.64,186.41 L663.68,185.51 L664.72,185.81 L665.76,184.83 L666.80,186.42 L667.84,189.12 L668.88,188.66 L669.92,186.13 L670.95,187.56 L671.99,185.92 L673.03,187.17 L674.07,188.61 L675.11,186.40 L676.15,188.95 L677.19,190.67 L678.23,185.52 L679.27,190.73 L680.31,187.58 L681.34,187.30 L682.38,188.43 L683.42,190.87 L684.46,187.52 L685.50,190.76" stroke="#06D6A0"/>
<path d="M475.64,187.22 L476.00,187.27 L476.35,187.32 L476.71,187.37 L477.07,187.45 L477.43,187.53 L477.79,187.62 L478.14,187.70 L478.50,187.78 L478.86,187.87 L479.22,187.95 L479.58,188.04 L479.94,188.12 L480.29,188.21 L480.65,188.29 L481.01,188.36 L481.37,188.41 L481.73,188.45 L482.09,188.50 L482.44,188.55 L482.80,188.60 L483.16,188.65 L483.52,188.69 L483.88,188.74 L484.23,188.79 L484.59,188.84 L484.95,188.88 L485.31,188.93 L485.67,188.98 L486.03,188.53 L486.38,188.07 L486.74,187.62 L487.10,187.17 L487.46,186.71 L487.82,186.26 L488.18,185.43 L488.53,184.59 L488.89,183.76 L489.25,182.93 L489.61,182.10 L489.97,181.26 L490.33,180.43 L490.68,179.60 L491.04,178.77 L491.40,177.91 L491.76,176.94 L492.12,175.97 L492.47,175.00 L492.83,174.03 L493.19,173.05 L493.55,172.08 L493.91,171.11 L494.27,170.14 L494.62,169.17 L494.98,167.74 L495.34,166.20 L495.70,164.65 L496.06,163.11 L496.42,161.56 L496.77,160.02 L497.13,158.82 L497.49,157.63 L497.85,156.43 L498.21,155.24 L498.56,154.04 L498.92,152.85 L499.28,151.65 L499.64,150.46 L500.00,149.26 L500.36,148.07 L500.71,146.87 L501.07,145.68 L501.43,144.48 L501.79,143.29 L502.15,142.09 L502.51,140.90 L502.86,139.70 L503.22,137.91 L503.58,136.12 L503.94,134.34 L504.30,132.55 L504.66,130.76 L505.01,128.97 L505.37,127.18 L505.73,125.39 L506.09,123.61 L506.45,121.82 L506.80,120.03 L507.16,118.24 L507.52,116.45 L507.88,114.66 L508.24,112.88 L508.60,111.09 L508.95,109.30 L509.31,107.59 L509.67,105.89 L510.03,104.18 L510.39,102.47 L510.75,100.77 L511.10,99.06 L511.46,97.35 L511.82,95.65 L512.18,93.94 L512.54,92.23 L512.89,90.53 L513.25,88.82 L513.61,87.11 L513.97,85.41 L514.33,83.70 L514.69,81.94 L515.04,80.18 L515.40,78.42 L515.76,76.66 L516.12,74.90 L516.48,73.14 L516.84,71.38 L517.19,69.62 L517.55,67.86 L517.91,66.10 L518.27,64.50 L518.63,62.90 L518.99,61.30 L519.34,59.70 L519.70,58.10 L520.06,56.50 L520.42,54.90 L520.78,53.30 L521.13,52.56 L521.49,51.82 L521.85,51.08 L522.21,50.35 L522.57,49.61 L522.93,48.87 L523.28,48.13 L523.64,47.33 L524.00,46.27 L524.36,45.21 L524.72,44.15 L525.08,43.10 L525.43,42.04 L525.79,40.98 L526.15,40.55 L526.51,40.11 L526.87,39.68 L527.23,39.25 L527.58,39.26 L527.94,41.03 L528.30,42.81 L528.66,44.59 L529.02,44.07 L529.37,42.03 L529.73,39.98 L530.09,37.94 L530.45,36.28 L530.81,34.62 L531.17,33.30 L531.52,32.50 L531.88,32.01 L532.24,32.77 L532.60,33.52 L532.96,34.28 L533.32,34.34 L533.67,33.94 L534.03,33.54 L534.39,33.14 L534.75,34.25 L535.11,35.36 L535.46,36.47 L535.82,36.86 L536.18,36.14 L536.54,35.43 L536.90,34.72 L537.26,35.94 L537.61,37.63 L537.97,39.33 L538.33,41.02 L538.69,42.72 L539.05,42.35 L539.41,41.47 L539.76,40.58 L540.12,39.70 L540.48,40.97 L540.84,42.23 L541.20,43.50 L541.55,44.77 L541.91,45.97 L542.27,46.93 L542.63,47.88 L542.99,48.84 L543.35,49.79 L543.70,50.75 L544.06,51.70 L544.42,52.66 L544.78,53.58 L545.14,54.50 L545.50,55.42 L545.85,56.34 L546.21,57.26 L546.57,58.17 L546.93,59.09 L547.29,60.01 L547.65,60.93 L548.00,61.53 L548.36,61.91 L548.72,62.29 L549.08,62.67 L549.44,63.94 L549.79,65.51 L550.15,66.39 L550.51,67.27 L550.87,68.15 L551.23,69.03 L551.59,69.90 L551.94,70.78 L552.30,71.66 L552.66,72.54 L553.02,73.42 L553.38,74.30 L553.74,75.18 L554.09,76.06 L554.45,76.94 L554.81,77.82 L555.17,78.70 L555.53,79.58 L555.88,80.46 L556.24,81.34 L556.60,82.22 L556.96,83.10 L557.32,83.97 L557.68,84.85 L558.03,85.73 L558.39,86.61 L558.75,87.49 L559.11,88.28 L559.47,88.92 L559.83,89.56 L560.18,90.20 L560.54,90.85 L560.90,91.49 L561.26,92.13 L561.62,92.77 L561.98,93.41 L562.33,94.06 L562.69,94.70 L563.05,95.34 L563.41,95.98 L563.77,96.62 L564.12,97.27 L564.48,97.92 L564.84,98.61 L565.20,99.29 L565.56,99.98 L565.92,100.67 L566.27,101.36 L566.63,102.05 L566.99,102.74 L567.35,103.42 L567.71,104.03 L568.07,104.58 L568.42,105.12 L568.78,105.67 L569.14,106.22 L569.50,106.77 L569.86,107.31 L570.21,107.86 L570.57,108.41 L570.93,108.95 L571.29,109.50 L571.65,110.05 L572.01,110.60 L572.36,111.14 L572.72,111.69 L573.08,112.24 L573.44,112.79 L573.80,113.33 L574.16,113.88 L574.51,114.23 L574.87,114.44 L575.23,114.66 L575.59,114.87 L575.95,115.09 L576.31,115.30 L576.66,115.52 L577.02,115.73 L577.38,115.95 L577.74,116.16 L578.10,116.38 L578.45,116.59 L578.81,116.80 L579.17,117.02 L579.53,117.23 L579.89,117.45 L580.25,117.70 L580.60,118.13 L580.96,118.55 L581.32,118.98 L581.68,119.40 L582.04,119.83 L582.40,120.25 L582.75,120.67 L583.11,121.10 L583.47,121.52 L583.83,121.95 L584.19,122.37 L584.54,122.79 L584.90,123.22 L585.26,123.64 L585.62,124.07 L585.98,124.49 L586.34,124.92 L586.69,125.35 L587.05,125.79 L587.41,126.22 L587.77,126.66 L588.13,127.09 L588.49,127.52 L588.84,127.96 L589.20,128.39 L589.56,128.82 L589.92,129.26 L590.28,129.69 L590.64,130.13 L590.99,130.56 L591.35,130.99 L591.71,131.43 L592.07,131.86 L592.43,132.70 L592.78,133.54 L593.14,134.38 L593.50,135.22 L593.86,136.06 L594.22,136.90 L594.58,137.75 L594.93,138.59 L595.29,139.43 L595.65,140.15 L596.01,140.42 L596.37,140.69 L596.73,140.96 L597.08,141.23 L597.44,141.50 L597.80,141.77 L598.16,142.03 L598.52,142.30 L598.88,142.57 L599.23,142.84 L599.59,143.11 L599.95,143.38 L600.31,143.65 L600.67,144.18 L601.02,144.79 L601.38,145.39 L601.74,146.00 L602.10,146.60 L602.46,147.20 L602.82,147.81 L603.17,148.41 L603.53,149.02 L603.89,149.62 L604.25,150.01 L604.61,150.40 L604.97,150.79 L605.32,151.18 L605.68,151.56 L606.04,151.95 L606.40,152.34 L606.76,152.73 L607.11,153.12 L607.47,153.51 L607.83,153.90 L608.19,154.29 L608.55,154.67 L608.91,155.06 L609.26,155.45 L609.62,155.84 L609.98,156.23 L610.34,156.62 L610.70,157.01 L611.06,157.40 L611.41,157.79 L611.77,158.17 L612.13,158.56 L612.49,158.95 L612.85,159.34 L613.20,159.73 L613.56,160.12 L613.92,160.51 L614.28,160.90 L614.64,161.28 L615.00,161.67 L615.35,162.06 L615.71,162.45 L616.07,162.84 L616.43,163.23 L616.79,163.58 L617.15,163.80 L617.50,164.01 L617.86,164.22 L618.22,164.44 L618.58,164.65 L618.94,164.86 L619.30,165.08 L619.65,165.29 L620.01,165.50 L620.37,165.72 L620.73,165.93 L621.09,166.14 L621.44,166.36 L621.80,166.57 L622.16,166.79 L622.52,167.00 L622.88,167.21 L623.24,167.43 L623.59,167.64 L623.95,167.85 L624.31,168.07 L624.67,168.28 L625.03,168.49 L625.39,168.71 L625.74,168.92 L626.10,169.13 L626.46,169.35 L626.82,169.56 L627.18,169.77 L627.53,169.99 L627.89,170.20 L628.25,170.41 L628.61,170.65 L628.97,170.90 L629.33,171.15 L629.68,171.40 L630.04,171.65 L630.40,171.90 L630.76,172.15 L631.12,172.40 L631.48,172.64 L631.83,172.89 L632.19,173.14 L632.55,173.39 L632.91,173.64 L633.27,173.89 L633.63,174.14 L633.98,174.39 L634.34,174.64 L634.70,174.89 L635.06,175.14 L635.42,175.39 L635.77,175.64 L636.13,175.89 L636.49,176.14 L636.85,176.39 L637.21,176.63 L637.57,176.88 L637.92,177.13 L638.28,177.38 L638.64,177.63 L639.00,177.88 L639.36,178.13 L639.72,178.38 L640.07,178.61 L640.43,178.75 L640.79,178.90 L641.15,179.04 L641.51,179.19 L641.87,179.33 L642.22,179.48 L642.58,179.62 L642.94,179.77 L643.30,179.91 L643.66,180.06 L644.01,180.20 L644.37,180.35 L644.73,180.49 L645.09,180.64 L645.45,180.78 L645.81,180.93 L646.16,181.07 L646.52,181.22 L646.88,181.36 L647.24,181.50 L647.60,181.65 L647.96,181.79 L648.31,181.94 L648.67,182.08 L649.03,182.23 L649.39,182.37 L649.75,182.52 L650.10,182.66 L650.46,182.81 L650.82,182.95 L651.18,183.10 L651.54,183.24 L651.90,183.36 L652.25,183.46 L652.61,183.56 L652.97,183.66 L653.33,183.76 L653.69,183.86 L654.05,183.96 L654.40,184.06 L654.76,184.17 L655.12,184.27 L655.48,184.37 L655.84,184.47 L656.19,184.57 L656.55,184.67 L656.91,184.77 L657.27,184.87 L657.63,184.97 L657.99,185.07 L658.34,185.17 L658.70,185.27 L659.06,185.37 L659.42,185.47 L659.78,185.57 L660.14,185.67 L660.49,185.78 L660.85,185.88 L661.21,185.98 L661.57,186.08 L661.93,186.18 L662.29,186.28 L662.64,186.38 L663.00,186.48 L663.36,186.58 L663.72,186.63 L664.08,186.69 L664.43,186.74 L664.79,186.79 L665.15,186.85 L665.51,186.90 L665.87,186.95 L666.23,187.00 L666.58,187.06 L666.94,187.11 L667.30,187.16 L667.66,187.22 L668.02,187.27 L668.38,187.32 L668.73,187.38 L669.09,187.43 L669.45,187.48 L669.81,187.54 L670.17,187.59 L670.52,187.64 L670.88,187.69 L671.24,187.75 L671.60,187.80 L671.96,187.85 L672.32,187.91 L672.67,187.96 L673.03,188.01 L673.39,188.07 L673.75,188.12 L674.11,188.17 L674.47,188.22 L674.82,188.28 L675.18,188.33 L675.54,188.38 L675.90,188.44 L676.26,188.49 L676.62,188.54 L676.97,188.60 L677.33,188.65 L677.69,188.67 L678.05,188.68 L678.41,188.70 L678.76,188.71 L679.12,188.72 L679.48,188.73 L679.84,188.75 L680.20,188.76 L680.56,188.77 L680.91,188.79 L681.27,188.80 L681.63,188.81 L681.99,188.83 L682.35,188.84 L682.71,188.85 L683.06,188.86 L683.42,188.88 L683.78,188.89 L684.14,188.90 L684.50,188.92 L684.86,188.93 L685.21,188.94 L685.57,188.95 L685.93,188.97 L686.29,188.98" stroke="#1186B1"/>
<path d="M475.64,186.58 L476.00,186.64 L476.35,186.70 L476.71,186.74 L477.07,186.74 L477.43,186.74 L477.79,186.73 L478.14,186.72 L478.50,186.71 L478.86,186.70 L479.22,186.68 L479.58,186.66 L479.94,186.64 L480.29,186.62 L480.65,186.60 L481.01,186.57 L481.37,186.51 L481.73,186.41 L482.09,186.28 L482.44,186.12 L482.80,185.94 L483.16,185.73 L483.52,185.50 L483.88,185.26 L484.23,185.01 L484.59,184.72 L484.95,184.34 L485.31,183.87 L485.67,183.33 L486.03,182.73 L486.38,182.08 L486.74,181.41 L487.10,180.72 L487.46,180.04 L487.82,179.38 L488.18,178.72 L488.53,178.04 L488.89,177.34 L489.25,176.63 L489.61,175.89 L489.97,175.13 L490.33,174.36 L490.68,173.57 L491.04,172.76 L491.40,171.93 L491.76,171.08 L492.12,170.21 L492.47,169.31 L492.83,168.40 L493.19,167.46 L493.55,166.50 L493.91,165.53 L494.27,164.55 L494.62,163.55 L494.98,162.54 L495.34,161.52 L495.70,160.50 L496.06,159.48 L496.42,158.45 L496.77,157.43 L497.13,156.41 L497.49,155.38 L497.85,154.34 L498.21,153.28 L498.56,152.22 L498.92,151.13 L499.28,150.01 L499.64,148.87 L500.00,147.71 L500.36,146.50 L500.71,145.27 L501.07,143.99 L501.43,142.67 L501.79,141.30 L502.15,139.86 L502.51,138.32 L502.86,136.70 L503.22,135.00 L503.58,133.24 L503.94,131.42 L504.30,129.56 L504.66,127.66 L505.01,125.73 L505.37,123.79 L505.73,121.84 L506.09,119.89 L506.45,117.96 L506.80,116.05 L507.16,114.17 L507.52,112.33 L507.88,110.55 L508.24,108.78 L508.60,107.03 L508.95,105.28 L509.31,103.54 L509.67,101.80 L510.03,100.07 L510.39,98.34 L510.75,96.62 L511.10,94.89 L511.46,93.18 L511.82,91.46 L512.18,89.75 L512.54,88.04 L512.89,86.32 L513.25,84.61 L513.61,82.90 L513.97,81.16 L514.33,79.39 L514.69,77.58 L515.04,75.74 L515.40,73.89 L515.76,72.03 L516.12,70.18 L516.48,68.33 L516.84,66.50 L517.19,64.69 L517.55,62.92 L517.91,61.19 L518.27,59.52 L518.63,57.90 L518.99,56.35 L519.34,54.88 L519.70,53.49 L520.06,52.19 L520.42,50.98 L520.78,49.82 L521.13,48.69 L521.49,47.61 L521.85,46.56 L522.21,45.56 L522.57,44.60 L522.93,43.68 L523.28,42.81 L523.64,41.99 L524.00,41.22 L524.36,40.50 L524.72,39.81 L525.08,39.15 L525.43,38.52 L525.79,37.91 L526.15,37.33 L526.51,36.79 L526.87,36.27 L527.23,35.80 L527.58,35.37 L527.94,34.97 L528.30,34.61 L528.66,34.23 L529.02,33.86 L529.37,33.50 L529.73,33.15 L530.09,32.82 L530.45,32.52 L530.81,32.26 L531.17,32.03 L531.52,31.86 L531.88,31.75 L532.24,31.70 L532.60,31.71 L532.96,31.73 L533.32,31.78 L533.67,31.84 L534.03,31.91 L534.39,32.00 L534.75,32.11 L535.11,32.22 L535.46,32.35 L535.82,32.49 L536.18,32.64 L536.54,32.79 L536.90,32.98 L537.26,33.25 L537.61,33.61 L537.97,34.03 L538.33,34.52 L538.69,35.05 L539.05,35.63 L539.41,36.24 L539.76,36.86 L540.12,37.50 L540.48,38.14 L540.84,38.78 L541.20,39.42 L541.55,40.11 L541.91,40.86 L542.27,41.65 L542.63,42.47 L542.99,43.31 L543.35,44.17 L543.70,45.03 L544.06,45.89 L544.42,46.73 L544.78,47.55 L545.14,48.35 L545.50,49.11 L545.85,49.86 L546.21,50.60 L546.57,51.34 L546.93,52.07 L547.29,52.80 L547.65,53.53 L548.00,54.25 L548.36,54.97 L548.72,55.70 L549.08,56.44 L549.44,57.21 L549.79,57.97 L550.15,58.71 L550.51,59.40 L550.87,60.02 L551.23,60.55 L551.59,61.00 L551.94,61.42 L552.30,61.85 L552.66,62.33 L553.02,62.90 L553.38,63.58 L553.74,64.38 L554.09,65.26 L554.45,66.23 L554.81,67.27 L555.17,68.37 L555.53,69.52 L555.88,70.71 L556.24,71.92 L556.60,73.14 L556.96,74.36 L557.32,75.58 L557.68,76.77 L558.03,77.93 L558.39,79.04 L558.75,80.10 L559.11,81.16 L559.47,82.29 L559.83,83.46 L560.18,84.64 L560.54,85.81 L560.90,86.94 L561.26,88.01 L561.62,88.98 L561.98,89.85 L562.33,90.57 L562.69,91.13 L563.05,91.51 L563.41,91.76 L563.77,92.00 L564.12,92.32 L564.48,92.77 L564.84,93.29 L565.20,93.79 L565.56,94.22 L565.92,94.50 L566.27,94.64 L566.63,94.74 L566.99,94.82 L567.35,94.92 L567.71,95.06 L568.07,95.31 L568.42,95.71 L568.78,96.22 L569.14,96.83 L569.50,97.51 L569.86,98.23 L570.21,98.98 L570.57,99.72 L570.93,100.44 L571.29,101.11 L571.65,101.70 L572.01,102.19 L572.36,102.63 L572.72,103.05 L573.08,103.44 L573.44,103.82 L573.80,104.18 L574.16,104.53 L574.51,104.88 L574.87,105.22 L575.23,105.56 L575.59,105.90 L575.95,106.25 L576.31,106.61 L576.66,106.97 L577.02,107.35 L577.38,107.72 L577.74,108.10 L578.10,108.47 L578.45,108.85 L578.81,109.23 L579.17,109.60 L579.53,109.98 L579.89,110.36 L580.25,110.74 L580.60,111.12 L580.96,111.50 L581.32,111.88 L581.68,112.26 L582.04,112.65 L582.40,113.03 L582.75,113.42 L583.11,113.80 L583.47,114.19 L583.83,114.58 L584.19,114.97 L584.54,115.35 L584.90,115.73 L585.26,116.11 L585.62,116.49 L585.98,116.87 L586.34,117.25 L586.69,117.63 L587.05,118.02 L587.41,118.41 L587.77,118.81 L588.13,119.22 L588.49,119.64 L588.84,120.06 L589.20,120.50 L589.56,120.96 L589.92,121.42 L590.28,121.90 L590.64,122.39 L590.99,122.90 L591.35,123.41 L591.71,123.94 L592.07,124.49 L592.43,125.04 L592.78,125.60 L593.14,126.18 L593.50,126.77 L593.86,127.36 L594.22,127.97 L594.58,128.59 L594.93,129.28 L595.29,130.01 L595.65,130.78 L596.01,131.57 L596.37,132.35 L596.73,133.11 L597.08,133.83 L597.44,134.49 L597.80,135.07 L598.16,135.57 L598.52,136.01 L598.88,136.41 L599.23,136.79 L599.59,137.14 L599.95,137.47 L600.31,137.79 L600.67,138.10 L601.02,138.41 L601.38,138.72 L601.74,139.04 L602.10,139.37 L602.46,139.72 L602.82,140.10 L603.17,140.49 L603.53,140.90 L603.89,141.31 L604.25,141.72 L604.61,142.15 L604.97,142.58 L605.32,143.01 L605.68,143.45 L606.04,143.90 L606.40,144.35 L606.76,144.80 L607.11,145.26 L607.47,145.72 L607.83,146.18 L608.19,146.65 L608.55,147.11 L608.91,147.59 L609.26,148.08 L609.62,148.58 L609.98,149.08 L610.34,149.57 L610.70,150.03 L611.06,150.47 L611.41,150.92 L611.77,151.35 L612.13,151.78 L612.49,152.21 L612.85,152.64 L613.20,153.06 L613.56,153.47 L613.92,153.88 L614.28,154.29 L614.64,154.70 L615.00,155.09 L615.35,155.49 L615.71,155.88 L616.07,156.26 L616.43,156.65 L616.79,157.02 L617.15,157.40 L617.50,157.76 L617.86,158.13 L618.22,158.49 L618.58,158.84 L618.94,159.19 L619.30,159.54 L619.65,159.88 L620.01,160.22 L620.37,160.55 L620.73,160.88 L621.09,161.20 L621.44,161.52 L621.80,161.83 L622.16,162.15 L622.52,162.45 L622.88,162.76 L623.24,163.06 L623.59,163.35 L623.95,163.65 L624.31,163.94 L624.67,164.23 L625.03,164.51 L625.39,164.80 L625.74,165.08 L626.10,165.36 L626.46,165.63 L626.82,165.91 L627.18,166.18 L627.53,166.45 L627.89,166.72 L628.25,166.98 L628.61,167.25 L628.97,167.51 L629.33,167.77 L629.68,168.02 L630.04,168.28 L630.40,168.53 L630.76,168.78 L631.12,169.03 L631.48,169.27 L631.83,169.52 L632.19,169.76 L632.55,170.00 L632.91,170.23 L633.27,170.47 L633.63,170.70 L633.98,170.92 L634.34,171.15 L634.70,171.37 L635.06,171.59 L635.42,171.81 L635.77,172.03 L636.13,172.24 L636.49,172.45 L636.85,172.66 L637.21,172.87 L637.57,173.07 L637.92,173.28 L638.28,173.48 L638.64,173.68 L639.00,173.88 L639.36,174.08 L639.72,174.27 L640.07,174.47 L640.43,174.66 L640.79,174.86 L641.15,175.05 L641.51,175.24 L641.87,175.43 L642.22,175.62 L642.58,175.81 L642.94,176.01 L643.30,176.20 L643.66,176.39 L644.01,176.59 L644.37,176.78 L644.73,176.98 L645.09,177.17 L645.45,177.36 L645.81,177.55 L646.16,177.75 L646.52,177.94 L646.88,178.12 L647.24,178.31 L647.60,178.49 L647.96,178.67 L648.31,178.85 L648.67,179.03 L649.03,179.20 L649.39,179.37 L649.75,179.53 L650.10,179.69 L650.46,179.85 L650.82,180.00 L651.18,180.14 L651.54,180.29 L651.90,180.42 L652.25,180.56 L652.61,180.69 L652.97,180.82 L653.33,180.95 L653.69,181.08 L654.05,181.21 L654.40,181.33 L654.76,181.46 L655.12,181.58 L655.48,181.70 L655.84,181.82 L656.19,181.94 L656.55,182.06 L656.91,182.17 L657.27,182.28 L657.63,182.39 L657.99,182.50 L658.34,182.61 L658.70,182.71 L659.06,182.82 L659.42,182.92 L659.78,183.01 L660.14,183.11 L660.49,183.20 L660.85,183.29 L661.21,183.38 L661.57,183.47 L661.93,183.55 L662.29,183.63 L662.64,183.71 L663.00,183.79 L663.36,183.86 L663.72,183.93 L664.08,184.00 L664.43,184.07 L664.79,184.13 L665.15,184.20 L665.51,184.26 L665.87,184.33 L666.23,184.39 L666.58,184.45 L666.94,184.51 L667.30,184.56 L667.66,184.62 L668.02,184.67 L668.38,184.73 L668.73,184.78 L669.09,184.84 L669.45,184.89 L669.81,184.94 L670.17,184.99 L670.52,185.04 L670.88,185.09 L671.24,185.13 L671.60,185.18 L671.96,185.23 L672.32,185.27 L672.67,185.32 L673.03,185.36 L673.39,185.41 L673.75,185.45 L674.11,185.50 L674.47,185.54 L674.82,185.59 L675.18,185.63 L675.54,185.67 L675.90,185.72 L676.26,185.77 L676.62,185.82 L676.97,185.86 L677.33,185.91 L677.69,185.96 L678.05,186.01 L678.41,186.06 L678.76,186.11 L679.12,186.16 L679.48,186.21 L679.84,186.25 L680.20,186.29 L680.56,186.33 L680.91,186.37 L681.27,186.41 L681.63,186.44 L681.99,186.47 L682.35,186.50 L682.71,186.53 L683.06,186.55 L683.42,186.56 L683.78,186.57 L684.14,186.58 L684.50,186.58 L684.86,186.58 L685.21,186.58 L685.57,186.58 L685.93,186.58 L686.29,186.58" stroke="#000000"/>
<path d="M475.64,183.86 L476.00,183.95 L476.35,184.05 L476.71,184.10 L477.07,184.09 L477.43,184.07 L477.79,184.03 L478.14,183.98 L478.50,183.91 L478.86,183.83 L479.22,183.74 L479.58,183.64 L479.94,183.53 L480.29,183.41 L480.65,183.29 L481.01,183.17 L481.37,182.99 L481.73,182.76 L482.09,182.49 L482.44,182.19 L482.80,181.86 L483.16,181.52 L483.52,181.17 L483.88,180.83 L484.23,180.50 L484.59,180.18 L484.95,179.86 L485.31,179.55 L485.67,179.22 L486.03,178.88 L486.38,178.53 L486.74,178.16 L487.10,177.77 L487.46,177.35 L487.82,176.90 L488.18,176.40 L488.53,175.86 L488.89,175.26 L489.25,174.62 L489.61,173.95 L489.97,173.25 L490.33,172.52 L490.68,171.78 L491.04,171.03 L491.40,170.27 L491.76,169.46 L492.12,168.59 L492.47,167.69 L492.83,166.75 L493.19,165.81 L493.55,164.87 L493.91,163.96 L494.27,163.08 L494.62,162.26 L494.98,161.52 L495.34,160.85 L495.70,160.17 L496.06,159.37 L496.42,158.48 L496.77,157.53 L497.13,156.52 L497.49,155.46 L497.85,154.36 L498.21,153.20 L498.56,152.01 L498.92,150.78 L499.28,149.51 L499.64,148.20 L500.00,146.87 L500.36,145.51 L500.71,144.12 L501.07,142.72 L501.43,141.30 L501.79,139.86 L502.15,138.37 L502.51,136.79 L502.86,135.13 L503.22,133.40 L503.58,131.61 L503.94,129.78 L504.30,127.91 L504.66,126.01 L505.01,124.11 L505.37,122.19 L505.73,120.29 L506.09,118.40 L506.45,116.54 L506.80,114.73 L507.16,112.96 L507.52,111.25 L507.88,109.62 L508.24,108.08 L508.60,106.60 L508.95,105.16 L509.31,103.71 L509.67,102.23 L510.03,100.67 L510.39,99.01 L510.75,97.28 L511.10,95.49 L511.46,93.65 L511.82,91.77 L512.18,89.86 L512.54,87.92 L512.89,85.98 L513.25,84.04 L513.61,82.10 L513.97,80.13 L514.33,78.08 L514.69,75.99 L515.04,73.89 L515.40,71.82 L515.76,69.79 L516.12,67.85 L516.48,66.01 L516.84,64.31 L517.19,62.68 L517.55,61.09 L517.91,59.55 L518.27,58.06 L518.63,56.62 L518.99,55.23 L519.34,53.89 L519.70,52.61 L520.06,51.38 L520.42,50.19 L520.78,49.04 L521.13,47.90 L521.49,46.80 L521.85,45.75 L522.21,44.74 L522.57,43.78 L522.93,42.89 L523.28,42.06 L523.64,41.32 L524.00,40.61 L524.36,39.92 L524.72,39.26 L525.08,38.62 L525.43,38.01 L525.79,37.44 L526.15,36.89 L526.51,36.37 L526.87,35.89 L527.23,35.44 L527.58,35.02 L527.94,34.65 L528.30,34.30 L528.66,33.94 L529.02,33.59 L529.37,33.24 L529.73,32.91 L530.09,32.60 L530.45,32.31 L530.81,32.06 L531.17,31.86 L531.52,31.69 L531.88,31.59 L532.24,31.54 L532.60,31.54 L532.96,31.56 L533.32,31.59 L533.67,31.63 L534.03,31.69 L534.39,31.75 L534.75,31.82 L535.11,31.91 L535.46,32.00 L535.82,32.10 L536.18,32.20 L536.54,32.32 L536.90,32.46 L537.26,32.70 L537.61,33.01 L537.97,33.39 L538.33,33.83 L538.69,34.33 L539.05,34.86 L539.41,35.43 L539.76,36.02 L540.12,36.62 L540.48,37.22 L540.84,37.82 L541.20,38.43 L541.55,39.10 L541.91,39.82 L542.27,40.59 L542.63,41.39 L542.99,42.23 L543.35,43.08 L543.70,43.94 L544.06,44.82 L544.42,45.68 L544.78,46.54 L545.14,47.38 L545.50,48.19 L545.85,49.00 L546.21,49.81 L546.57,50.62 L546.93,51.43 L547.29,52.24 L547.65,53.06 L548.00,53.90 L548.36,54.75 L548.72,55.61 L549.08,56.50 L549.44,57.41 L549.79,58.35 L550.15,59.34 L550.51,60.36 L550.87,61.41 L551.23,62.47 L551.59,63.53 L551.94,64.57 L552.30,65.59 L552.66,66.61 L553.02,67.63 L553.38,68.65 L553.74,69.67 L554.09,70.68 L554.45,71.68 L554.81,72.67 L555.17,73.66 L555.53,74.66 L555.88,75.68 L556.24,76.72 L556.60,77.77 L556.96,78.81 L557.32,79.85 L557.68,80.88 L558.03,81.88 L558.39,82.86 L558.75,83.80 L559.11,84.69 L559.47,85.53 L559.83,86.32 L560.18,87.03 L560.54,87.67 L560.90,88.19 L561.26,88.65 L561.62,89.11 L561.98,89.63 L562.33,90.26 L562.69,91.23 L563.05,92.57 L563.41,94.07 L563.77,95.53 L564.12,96.74 L564.48,97.48 L564.84,97.61 L565.20,97.56 L565.56,97.49 L565.92,97.46 L566.27,97.54 L566.63,97.77 L566.99,98.13 L567.35,98.61 L567.71,99.19 L568.07,99.85 L568.42,100.59 L568.78,101.37 L569.14,102.20 L569.50,103.04 L569.86,103.89 L570.21,104.73 L570.57,105.54 L570.93,106.31 L571.29,107.02 L571.65,107.66 L572.01,108.20 L572.36,108.71 L572.72,109.21 L573.08,109.69 L573.44,110.17 L573.80,110.63 L574.16,111.09 L574.51,111.53 L574.87,111.97 L575.23,112.39 L575.59,112.81 L575.95,113.22 L576.31,113.62 L576.66,114.01 L577.02,114.40 L577.38,114.78 L577.74,115.15 L578.10,115.51 L578.45,115.85 L578.81,116.18 L579.17,116.50 L579.53,116.82 L579.89,117.12 L580.25,117.42 L580.60,117.71 L580.96,118.00 L581.32,118.30 L581.68,118.59 L582.04,118.89 L582.40,119.19 L582.75,119.50 L583.11,119.82 L583.47,120.16 L583.83,120.50 L584.19,120.86 L584.54,121.22 L584.90,121.58 L585.26,121.96 L585.62,122.33 L585.98,122.72 L586.34,123.11 L586.69,123.51 L587.05,123.91 L587.41,124.31 L587.77,124.73 L588.13,125.15 L588.49,125.57 L588.84,126.00 L589.20,126.44 L589.56,126.88 L589.92,127.33 L590.28,127.80 L590.64,128.28 L590.99,128.78 L591.35,129.29 L591.71,129.81 L592.07,130.34 L592.43,130.87 L592.78,131.40 L593.14,131.94 L593.50,132.47 L593.86,132.99 L594.22,133.51 L594.58,134.02 L594.93,134.52 L595.29,135.00 L595.65,135.47 L596.01,135.93 L596.37,136.37 L596.73,136.81 L597.08,137.24 L597.44,137.67 L597.80,138.09 L598.16,138.50 L598.52,138.92 L598.88,139.33 L599.23,139.74 L599.59,140.15 L599.95,140.56 L600.31,140.98 L600.67,141.39 L601.02,141.81 L601.38,142.24 L601.74,142.67 L602.10,143.11 L602.46,143.55 L602.82,143.99 L603.17,144.44 L603.53,144.89 L603.89,145.33 L604.25,145.78 L604.61,146.23 L604.97,146.67 L605.32,147.12 L605.68,147.56 L606.04,147.99 L606.40,148.43 L606.76,148.86 L607.11,149.30 L607.47,149.75 L607.83,150.19 L608.19,150.64 L608.55,151.10 L608.91,151.55 L609.26,152.01 L609.62,152.46 L609.98,152.91 L610.34,153.37 L610.70,153.82 L611.06,154.27 L611.41,154.71 L611.77,155.15 L612.13,155.59 L612.49,156.02 L612.85,156.45 L613.20,156.87 L613.56,157.28 L613.92,157.68 L614.28,158.08 L614.64,158.47 L615.00,158.84 L615.35,159.21 L615.71,159.57 L616.07,159.91 L616.43,160.24 L616.79,160.56 L617.15,160.87 L617.50,161.18 L617.86,161.47 L618.22,161.76 L618.58,162.05 L618.94,162.32 L619.30,162.60 L619.65,162.86 L620.01,163.13 L620.37,163.39 L620.73,163.64 L621.09,163.89 L621.44,164.14 L621.80,164.38 L622.16,164.62 L622.52,164.86 L622.88,165.09 L623.24,165.33 L623.59,165.56 L623.95,165.79 L624.31,166.02 L624.67,166.25 L625.03,166.48 L625.39,166.71 L625.74,166.93 L626.10,167.16 L626.46,167.39 L626.82,167.62 L627.18,167.86 L627.53,168.09 L627.89,168.33 L628.25,168.56 L628.61,168.80 L628.97,169.05 L629.33,169.29 L629.68,169.54 L630.04,169.78 L630.40,170.03 L630.76,170.27 L631.12,170.52 L631.48,170.77 L631.83,171.01 L632.19,171.26 L632.55,171.50 L632.91,171.75 L633.27,171.99 L633.63,172.24 L633.98,172.48 L634.34,172.72 L634.70,172.96 L635.06,173.19 L635.42,173.43 L635.77,173.66 L636.13,173.89 L636.49,174.12 L636.85,174.35 L637.21,174.57 L637.57,174.79 L637.92,175.00 L638.28,175.21 L638.64,175.42 L639.00,175.63 L639.36,175.83 L639.72,176.03 L640.07,176.22 L640.43,176.41 L640.79,176.60 L641.15,176.78 L641.51,176.97 L641.87,177.15 L642.22,177.33 L642.58,177.51 L642.94,177.69 L643.30,177.87 L643.66,178.04 L644.01,178.22 L644.37,178.39 L644.73,178.56 L645.09,178.72 L645.45,178.89 L645.81,179.05 L646.16,179.22 L646.52,179.38 L646.88,179.53 L647.24,179.69 L647.60,179.84 L647.96,180.00 L648.31,180.15 L648.67,180.30 L649.03,180.44 L649.39,180.59 L649.75,180.73 L650.10,180.87 L650.46,181.01 L650.82,181.14 L651.18,181.28 L651.54,181.41 L651.90,181.54 L652.25,181.67 L652.61,181.80 L652.97,181.92 L653.33,182.05 L653.69,182.18 L654.05,182.30 L654.40,182.43 L654.76,182.55 L655.12,182.68 L655.48,182.80 L655.84,182.92 L656.19,183.04 L656.55,183.15 L656.91,183.27 L657.27,183.38 L657.63,183.50 L657.99,183.61 L658.34,183.72 L658.70,183.82 L659.06,183.93 L659.42,184.03 L659.78,184.13 L660.14,184.23 L660.49,184.32 L660.85,184.41 L661.21,184.50 L661.57,184.59 L661.93,184.67 L662.29,184.76 L662.64,184.83 L663.00,184.91 L663.36,184.98 L663.72,185.05 L664.08,185.12 L664.43,185.19 L664.79,185.25 L665.15,185.32 L665.51,185.38 L665.87,185.45 L666.23,185.51 L666.58,185.57 L666.94,185.63 L667.30,185.69 L667.66,185.75 L668.02,185.81 L668.38,185.87 L668.73,185.93 L669.09,185.98 L669.45,186.04 L669.81,186.09 L670.17,186.15 L670.52,186.20 L670.88,186.25 L671.24,186.31 L671.60,186.36 L671.96,186.41 L672.32,186.46 L672.67,186.51 L673.03,186.56 L673.39,186.61 L673.75,186.65 L674.11,186.70 L674.47,186.75 L674.82,186.79 L675.18,186.84 L675.54,186.88 L675.90,186.93 L676.26,186.97 L676.62,187.01 L676.97,187.06 L677.33,187.10 L677.69,187.14 L678.05,187.18 L678.41,187.22 L678.76,187.26 L679.12,187.30 L679.48,187.34 L679.84,187.38 L680.20,187.42 L680.56,187.46 L680.91,187.50 L681.27,187.54 L681.63,187.58 L681.99,187.61 L682.35,187.65 L682.71,187.69 L683.06,187.72 L683.42,187.76 L683.78,187.80 L684.14,187.83 L684.50,187.87 L684.86,187.90 L685.21,187.93 L685.57,187.96 L685.93,187.99 L686.29,188.02" stroke="#FF6B6B"/>
</g>
<rect x="476.6" y="21.0" width="208.00" height="168.30" fill="none" stroke="#a2a2a2" stroke-width="0.9"/>
<line x1="491.40" y1="189.3" x2="491.40" y2="192.10000000000002" stroke="#a2a2a2" stroke-width="0.9"/>
<text x="491.40" y="203.30" font-size="9.9" text-anchor="middle" fill="#231f20" font-weight="normal" >500</text>
<line x1="563.05" y1="189.3" x2="563.05" y2="192.10000000000002" stroke="#a2a2a2" stroke-width="0.9"/>
<text x="563.05" y="203.30" font-size="9.9" text-anchor="middle" fill="#231f20" font-weight="normal" >600</text>
<line x1="634.70" y1="189.3" x2="634.70" y2="192.10000000000002" stroke="#a2a2a2" stroke-width="0.9"/>
<text x="634.70" y="203.30" font-size="9.9" text-anchor="middle" fill="#231f20" font-weight="normal" >700</text>
<line x1="473.8" y1="189.30" x2="476.6" y2="189.30" stroke="#a2a2a2" stroke-width="0.9"/>
<text x="470.60" y="192.80" font-size="9.9" text-anchor="end" fill="#231f20" font-weight="normal" >0</text>
<line x1="473.8" y1="29.30" x2="476.6" y2="29.30" stroke="#a2a2a2" stroke-width="0.9"/>
<text x="471.50" y="32.80" font-size="9.9" text-anchor="end" fill="#231f20" font-weight="normal" >1</text>
<text x="580.60" y="220.40" font-size="10.6" text-anchor="middle" fill="#231f20" font-weight="normal" textLength="85.4" lengthAdjust="spacingAndGlyphs" >Wavelength (nm)</text>
<text transform="translate(461.2,104.6) rotate(-90)" text-anchor="middle" font-size="11" fill="#231f20" textLength="108.6" lengthAdjust="spacingAndGlyphs">Normalized PL intensity</text>
<line x1="602.3" y1="33.80" x2="611.9" y2="33.80" stroke="#FF6B6B" stroke-width="1.6"/>
<text x="617.40" y="36.70" font-size="10.4" text-anchor="start" fill="#231f20" font-weight="normal" textLength="44.3" lengthAdjust="spacingAndGlyphs" >Proposed</text>
<line x1="602.3" y1="47.43" x2="611.9" y2="47.43" stroke="#FFCD66" stroke-width="1.6"/>
<text x="617.40" y="50.40" font-size="10.4" text-anchor="start" fill="#231f20" font-weight="normal" textLength="52.6" lengthAdjust="spacingAndGlyphs" >Noise2Void</text>
<line x1="602.3" y1="61.06" x2="611.9" y2="61.06" stroke="#06D6A0" stroke-width="1.6"/>
<text x="617.40" y="64.10" font-size="10.4" text-anchor="start" fill="#231f20" font-weight="normal" textLength="50.4" lengthAdjust="spacingAndGlyphs" >Noise2Fast</text>
<line x1="602.3" y1="74.69" x2="611.9" y2="74.69" stroke="#1186B1" stroke-width="1.6"/>
<text x="617.40" y="77.80" font-size="10.4" text-anchor="start" fill="#231f20" font-weight="normal" textLength="43.4" lengthAdjust="spacingAndGlyphs" >Self2Self</text>
<line x1="602.3" y1="88.32" x2="611.9" y2="88.32" stroke="#000000" stroke-width="1.6"/>
<text x="617.40" y="91.50" font-size="10.4" text-anchor="start" fill="#231f20" font-weight="normal" textLength="62.3" lengthAdjust="spacingAndGlyphs" >Ground truth</text>
<text x="617.70" y="142.10" font-size="10.4" text-anchor="start" fill="#231f20" font-weight="normal" textLength="49.3" lengthAdjust="spacingAndGlyphs" >Full image</text>
<text x="453.00" y="12.80" font-size="15" text-anchor="start" fill="#000" font-weight="bold" >b</text>
<defs><clipPath id="cb_c"><rect x="57.5" y="247.6" width="207.8" height="170.8"/></clipPath></defs>
<g clip-path="url(#cb_c)" fill="none" stroke-width="1.2" stroke-linejoin="round">
<path d="M55.50,401.85 L56.55,411.47 L57.59,404.66 L58.63,409.64 L59.67,402.33 L60.71,400.21 L61.75,410.37 L62.79,413.43 L63.83,405.72 L64.87,399.90 L65.91,405.61 L66.96,406.18 L68.00,399.26 L69.04,416.69 L70.08,403.83 L71.12,407.07 L72.16,395.77 L73.20,400.82 L74.24,401.89 L75.28,395.35 L76.33,401.36 L77.37,389.28 L78.41,392.10 L79.45,387.60 L80.49,387.99 L81.53,371.90 L82.57,377.75 L83.61,368.99 L84.65,365.92 L85.70,374.99 L86.74,356.66 L87.78,354.20 L88.82,349.63 L89.86,353.01 L90.90,348.78 L91.94,328.74 L92.98,305.36 L94.02,344.15 L95.07,319.87 L96.11,329.39 L97.15,308.13 L98.19,310.13 L99.23,297.44 L100.27,353.62 L101.31,317.20 L102.35,320.57 L103.39,304.69 L104.44,311.90 L105.48,308.62 L106.52,286.64 L107.56,266.31 L108.60,337.30 L109.64,297.76 L110.68,288.06 L111.72,292.93 L112.76,298.56 L113.81,314.56 L114.85,309.29 L115.89,284.93 L116.93,280.64 L117.97,296.70 L119.01,312.06 L120.05,298.83 L121.09,305.09 L122.13,294.12 L123.18,301.74 L124.22,314.22 L125.26,303.00 L126.30,325.46 L127.34,296.69 L128.38,293.61 L129.42,332.28 L130.46,309.59 L131.50,332.67 L132.55,302.22 L133.59,305.92 L134.63,324.50 L135.67,307.09 L136.71,330.69 L137.75,336.35 L138.79,338.12 L139.83,335.11 L140.87,340.86 L141.92,337.00 L142.96,349.25 L144.00,332.56 L145.04,330.80 L146.08,351.70 L147.12,364.60 L148.16,338.60 L149.20,334.60 L150.24,351.67 L151.29,366.22 L152.33,348.36 L153.37,334.39 L154.41,375.55 L155.45,348.94 L156.49,359.12 L157.53,366.24 L158.57,351.86 L159.61,372.87 L160.66,356.08 L161.70,345.97 L162.74,359.29 L163.78,371.46 L164.82,381.80 L165.86,377.34 L166.90,383.90 L167.94,349.67 L168.98,369.44 L170.02,378.33 L171.07,381.71 L172.11,380.38 L173.15,374.36 L174.19,384.25 L175.23,357.86 L176.27,381.16 L177.31,382.42 L178.35,373.71 L179.39,364.79 L180.44,367.00 L181.48,383.40 L182.52,378.03 L183.56,379.81 L184.60,377.59 L185.64,380.69 L186.68,391.04 L187.72,394.22 L188.76,383.84 L189.81,394.98 L190.85,376.56 L191.89,387.27 L192.93,395.83 L193.97,391.43 L195.01,393.51 L196.05,391.63 L197.09,384.99 L198.13,402.11 L199.18,405.58 L200.22,391.61 L201.26,395.73 L202.30,394.23 L203.34,393.14 L204.38,397.71 L205.42,392.22 L206.46,403.14 L207.50,397.80 L208.55,403.63 L209.59,405.81 L210.63,395.95 L211.67,396.67 L212.71,411.56 L213.75,407.18 L214.79,399.50 L215.83,395.52 L216.87,405.60 L217.92,403.27 L218.96,410.35 L220.00,389.35 L221.04,400.77 L222.08,398.89 L223.12,400.52 L224.16,399.44 L225.20,401.49 L226.24,406.70 L227.29,401.46 L228.33,405.16 L229.37,399.29 L230.41,409.81 L231.45,409.07 L232.49,403.34 L233.53,400.56 L234.57,406.40 L235.61,410.81 L236.66,408.14 L237.70,410.18 L238.74,398.93 L239.78,403.92 L240.82,402.40 L241.86,407.14 L242.90,411.32 L243.94,403.38 L244.98,401.30 L246.03,406.43 L247.07,409.36 L248.11,404.39 L249.15,411.19 L250.19,406.10 L251.23,412.95 L252.27,414.22 L253.31,407.34 L254.35,408.47 L255.40,401.50 L256.44,411.44 L257.48,410.17 L258.52,415.46 L259.56,418.80 L260.60,418.48 L261.64,408.52 L262.68,415.94 L263.72,405.70 L264.77,404.45 L265.81,412.16" stroke="#FFCD66"/>
<path d="M55.50,417.79 L56.55,410.70 L57.59,402.27 L58.63,405.44 L59.67,401.24 L60.71,410.00 L61.75,407.50 L62.79,414.33 L63.83,407.49 L64.87,399.69 L65.91,406.03 L66.96,398.96 L68.00,406.75 L69.04,406.05 L70.08,399.62 L71.12,400.57 L72.16,392.14 L73.20,394.50 L74.24,377.70 L75.28,395.19 L76.33,393.54 L77.37,400.40 L78.41,386.75 L79.45,376.71 L80.49,391.17 L81.53,380.21 L82.57,367.34 L83.61,375.54 L84.65,377.98 L85.70,352.23 L86.74,361.15 L87.78,351.45 L88.82,332.63 L89.86,326.64 L90.90,350.01 L91.94,350.09 L92.98,329.95 L94.02,335.01 L95.07,370.75 L96.11,294.43 L97.15,319.73 L98.19,299.90 L99.23,340.69 L100.27,281.10 L101.31,321.51 L102.35,307.89 L103.39,335.28 L104.44,304.64 L105.48,304.07 L106.52,301.36 L107.56,285.39 L108.60,292.59 L109.64,270.55 L110.68,255.60 L111.72,315.92 L112.76,293.70 L113.81,279.34 L114.85,266.19 L115.89,277.32 L116.93,337.77 L117.97,289.50 L119.01,265.62 L120.05,298.86 L121.09,313.29 L122.13,295.37 L123.18,315.14 L124.22,289.97 L125.26,306.23 L126.30,275.31 L127.34,297.77 L128.38,328.40 L129.42,300.28 L130.46,294.51 L131.50,330.54 L132.55,328.46 L133.59,372.83 L134.63,300.18 L135.67,335.88 L136.71,372.91 L137.75,366.91 L138.79,334.65 L139.83,316.69 L140.87,338.21 L141.92,329.48 L142.96,363.10 L144.00,369.08 L145.04,326.81 L146.08,335.90 L147.12,347.12 L148.16,323.60 L149.20,366.34 L150.24,357.39 L151.29,331.95 L152.33,318.47 L153.37,352.36 L154.41,323.85 L155.45,365.01 L156.49,349.83 L157.53,359.47 L158.57,384.27 L159.61,354.11 L160.66,343.94 L161.70,362.70 L162.74,362.33 L163.78,339.86 L164.82,382.80 L165.86,387.39 L166.90,375.05 L167.94,384.18 L168.98,346.67 L170.02,363.37 L171.07,381.69 L172.11,378.98 L173.15,330.42 L174.19,380.81 L175.23,383.86 L176.27,370.23 L177.31,366.84 L178.35,373.49 L179.39,389.27 L180.44,393.27 L181.48,371.71 L182.52,380.84 L183.56,401.31 L184.60,367.63 L185.64,373.42 L186.68,386.43 L187.72,387.43 L188.76,382.52 L189.81,393.82 L190.85,401.94 L191.89,383.98 L192.93,404.10 L193.97,384.90 L195.01,405.25 L196.05,391.75 L197.09,392.91 L198.13,374.13 L199.18,403.76 L200.22,407.84 L201.26,400.88 L202.30,406.09 L203.34,401.55 L204.38,392.64 L205.42,390.01 L206.46,382.49 L207.50,404.86 L208.55,375.01 L209.59,381.52 L210.63,401.35 L211.67,419.95 L212.71,401.10 L213.75,400.15 L214.79,420.19 L215.83,400.91 L216.87,403.57 L217.92,408.76 L218.96,397.47 L220.00,394.79 L221.04,407.25 L222.08,401.83 L223.12,409.21 L224.16,410.53 L225.20,404.04 L226.24,400.91 L227.29,409.61 L228.33,420.19 L229.37,401.40 L230.41,418.15 L231.45,405.46 L232.49,393.39 L233.53,406.99 L234.57,415.85 L235.61,418.01 L236.66,399.08 L237.70,407.91 L238.74,404.13 L239.78,401.59 L240.82,408.73 L241.86,410.74 L242.90,415.38 L243.94,420.19 L244.98,419.60 L246.03,409.61 L247.07,410.47 L248.11,406.58 L249.15,410.36 L250.19,408.50 L251.23,404.31 L252.27,415.85 L253.31,411.86 L254.35,420.19 L255.40,403.51 L256.44,409.92 L257.48,406.97 L258.52,399.99 L259.56,403.19 L260.60,410.92 L261.64,405.31 L262.68,420.19 L263.72,407.83 L264.77,409.88 L265.81,420.19" stroke="#06D6A0"/>
<path d="M55.50,409.97 L56.22,409.97 L56.94,409.97 L57.66,409.97 L58.38,409.97 L59.09,409.97 L59.81,409.97 L60.53,409.97 L61.25,409.97 L61.97,409.97 L62.68,409.97 L63.40,409.97 L64.12,406.77 L64.84,406.30 L65.56,405.80 L66.27,405.28 L66.99,404.73 L67.71,404.14 L68.43,403.50 L69.15,402.82 L69.86,402.10 L70.58,401.34 L71.30,400.54 L72.02,399.68 L72.74,398.74 L73.45,397.74 L74.17,396.67 L74.89,395.54 L75.61,394.35 L76.33,393.10 L77.04,391.74 L77.76,390.30 L78.48,388.77 L79.20,387.16 L79.92,385.49 L80.63,383.76 L81.35,381.96 L82.07,380.09 L82.79,378.11 L83.51,376.03 L84.22,373.82 L84.94,371.48 L85.66,368.94 L86.38,366.11 L87.10,363.05 L87.81,359.85 L88.53,356.59 L89.25,353.09 L89.97,349.41 L90.69,346.01 L91.40,343.20 L92.12,340.71 L92.84,338.33 L93.56,335.82 L94.28,333.04 L94.99,330.12 L95.71,327.23 L96.43,324.52 L97.15,322.12 L97.87,319.83 L98.58,317.63 L99.30,315.52 L100.02,313.53 L100.74,311.64 L101.46,309.86 L102.17,308.21 L102.89,306.67 L103.61,305.21 L104.33,303.85 L105.05,302.58 L105.76,301.45 L106.48,300.45 L107.20,299.47 L107.92,298.42 L108.64,297.45 L109.35,296.68 L110.07,296.26 L110.79,296.17 L111.51,296.12 L112.23,296.12 L112.94,296.14 L113.66,296.35 L114.38,296.83 L115.10,297.49 L115.82,298.22 L116.53,298.92 L117.25,299.55 L117.97,300.21 L118.69,300.89 L119.41,301.60 L120.12,302.33 L120.84,303.08 L121.56,303.83 L122.28,304.56 L123.00,305.29 L123.71,306.04 L124.43,306.84 L125.15,307.71 L125.87,308.66 L126.59,309.73 L127.30,311.11 L128.02,312.78 L128.74,314.54 L129.46,316.19 L130.18,317.52 L130.89,318.59 L131.61,319.51 L132.33,320.35 L133.05,321.13 L133.77,321.90 L134.48,322.72 L135.20,323.62 L135.92,324.65 L136.64,325.86 L137.36,327.45 L138.07,329.41 L138.79,331.62 L139.51,333.95 L140.23,336.28 L140.95,338.48 L141.66,340.42 L142.38,341.99 L143.10,343.18 L143.82,344.27 L144.54,345.29 L145.25,346.24 L145.97,347.14 L146.69,347.98 L147.41,348.77 L148.13,349.53 L148.84,350.25 L149.56,350.95 L150.28,351.62 L151.00,352.28 L151.72,352.93 L152.43,353.58 L153.15,354.23 L153.87,354.89 L154.59,355.57 L155.31,356.27 L156.02,356.98 L156.74,357.67 L157.46,358.35 L158.18,359.02 L158.90,359.68 L159.61,360.33 L160.33,360.98 L161.05,361.62 L161.77,362.25 L162.49,362.89 L163.20,363.53 L163.92,364.16 L164.64,364.80 L165.36,365.45 L166.08,366.10 L166.79,366.77 L167.51,367.44 L168.23,368.12 L168.95,368.82 L169.67,369.53 L170.38,370.25 L171.10,370.98 L171.82,371.72 L172.54,372.46 L173.26,373.20 L173.97,373.94 L174.69,374.68 L175.41,375.42 L176.13,376.15 L176.85,376.87 L177.56,377.58 L178.28,378.28 L179.00,378.96 L179.72,379.63 L180.44,380.28 L181.15,380.91 L181.87,381.53 L182.59,382.14 L183.31,382.75 L184.03,383.34 L184.74,383.93 L185.46,384.51 L186.18,385.09 L186.90,385.66 L187.62,386.22 L188.33,386.78 L189.05,387.33 L189.77,387.88 L190.49,388.42 L191.21,388.97 L191.92,389.51 L192.64,390.04 L193.36,390.58 L194.08,391.12 L194.80,391.66 L195.51,392.21 L196.23,392.76 L196.95,393.31 L197.67,393.86 L198.39,394.40 L199.10,394.94 L199.82,395.47 L200.54,395.99 L201.26,396.49 L201.98,396.98 L202.69,397.46 L203.41,397.91 L204.13,398.35 L204.85,398.76 L205.57,399.15 L206.28,399.51 L207.00,399.87 L207.72,400.21 L208.44,400.53 L209.16,400.85 L209.87,401.16 L210.59,401.46 L211.31,401.75 L212.03,402.04 L212.75,402.31 L213.46,402.59 L214.18,402.85 L214.90,403.11 L215.62,403.37 L216.34,403.62 L217.05,403.88 L217.77,404.13 L218.49,404.37 L219.21,404.62 L219.93,404.87 L220.64,405.11 L221.36,405.35 L222.08,405.59 L222.80,405.82 L223.52,406.05 L224.23,406.28 L224.95,406.50 L225.67,406.72 L226.39,406.93 L227.11,407.14 L227.82,407.34 L228.54,407.54 L229.26,407.74 L229.98,407.92 L230.70,408.10 L231.41,408.28 L232.13,408.45 L232.85,408.62 L233.57,408.79 L234.29,408.96 L235.00,409.12 L235.72,409.28 L236.44,409.44 L237.16,409.59 L237.88,409.74 L238.59,409.89 L239.31,410.03 L240.03,410.16 L240.75,410.29 L241.47,410.41 L242.18,410.53 L242.90,410.64 L243.62,410.74 L244.34,410.83 L245.06,410.92 L245.77,411.01 L246.49,411.10 L247.21,411.19 L247.93,411.27 L248.65,411.35 L249.36,411.43 L250.08,411.50 L250.80,411.58 L251.52,411.65 L252.24,411.72 L252.95,411.79 L253.67,411.86 L254.39,411.92 L255.11,411.99 L255.83,412.05 L256.54,412.11 L257.26,412.17 L257.98,412.23 L258.70,412.29 L259.42,412.34 L260.13,412.40 L260.85,412.45 L261.57,412.51 L262.29,412.56 L263.01,412.61 L263.72,412.66 L264.44,412.71 L265.16,412.76 L265.88,412.80 L266.60,412.84" stroke="#1186B1"/>
<path d="M55.50,416.16 L56.22,417.16 L56.94,416.90 L57.66,415.11 L58.38,415.01 L59.09,416.04 L59.81,415.11 L60.53,413.54 L61.25,414.11 L61.97,414.76 L62.68,413.06 L63.40,411.84 L64.12,412.65 L64.84,411.93 L65.56,409.43 L66.27,408.39 L66.99,408.67 L67.71,407.14 L68.43,404.67 L69.15,404.26 L69.86,404.26 L70.58,402.09 L71.30,400.08 L72.02,400.06 L72.74,399.34 L73.45,396.68 L74.17,395.22 L74.89,395.39 L75.61,393.95 L76.33,390.51 L77.04,388.67 L77.76,387.55 L78.48,384.32 L79.20,381.48 L79.92,380.81 L80.63,379.76 L81.35,376.64 L82.07,375.35 L82.79,375.89 L83.51,375.04 L84.22,372.71 L84.94,372.16 L85.66,370.20 L86.38,364.60 L87.10,358.52 L87.81,357.26 L88.53,355.94 L89.25,352.49 L89.97,349.64 L90.69,348.78 L91.40,347.97 L92.12,345.46 L92.84,344.52 L93.56,339.27 L94.28,332.13 L94.99,324.18 L95.71,325.35 L96.43,326.78 L97.15,326.05 L97.87,325.61 L98.58,324.27 L99.30,319.10 L100.02,312.06 L100.74,306.34 L101.46,302.15 L102.17,300.33 L102.89,297.87 L103.61,297.41 L104.33,297.52 L105.05,295.86 L105.76,294.54 L106.48,295.38 L107.20,295.68 L107.92,293.97 L108.64,292.76 L109.35,293.29 L110.07,292.32 L110.79,290.00 L111.51,289.79 L112.23,290.86 L112.94,289.85 L113.66,288.43 L114.38,288.54 L115.10,288.44 L115.82,286.23 L116.53,286.89 L117.25,290.38 L117.97,293.06 L118.69,294.82 L119.41,297.81 L120.12,298.23 L120.84,296.69 L121.56,294.48 L122.28,297.21 L123.00,300.76 L123.71,301.50 L124.43,302.25 L125.15,304.68 L125.87,305.28 L126.59,304.09 L127.30,304.32 L128.02,306.41 L128.74,306.74 L129.46,306.12 L130.18,307.91 L130.89,310.51 L131.61,310.95 L132.33,311.60 L133.05,314.72 L133.77,317.17 L134.48,317.66 L135.20,319.37 L135.92,322.74 L136.64,324.51 L137.36,324.36 L138.07,325.11 L138.79,326.61 L139.51,326.00 L140.23,327.18 L140.95,330.53 L141.66,333.51 L142.38,334.17 L143.10,335.61 L143.82,338.88 L144.54,340.80 L145.25,340.86 L145.97,342.12 L146.69,344.43 L147.41,344.71 L148.13,344.48 L148.84,346.40 L149.56,348.28 L150.28,348.02 L151.00,348.32 L151.72,350.60 L152.43,351.78 L153.15,351.25 L153.87,352.27 L154.59,354.59 L155.31,355.04 L156.02,354.55 L156.74,356.15 L157.46,358.03 L158.18,357.75 L158.90,357.74 L159.61,359.83 L160.33,361.10 L161.05,360.49 L161.77,361.05 L162.49,363.16 L163.20,363.58 L163.92,362.88 L164.64,364.16 L165.36,366.05 L166.08,365.80 L166.79,365.50 L167.51,367.35 L168.23,368.74 L168.95,368.15 L169.67,368.58 L170.38,370.78 L171.10,371.50 L171.82,370.83 L172.54,372.00 L173.26,374.08 L173.97,374.09 L174.69,373.73 L175.41,375.53 L176.13,376.94 L176.85,376.24 L177.56,376.26 L178.28,378.21 L179.00,378.94 L179.72,378.05 L180.44,378.81 L181.15,380.88 L181.87,381.04 L182.59,380.51 L183.31,382.11 L184.03,383.84 L184.74,383.42 L185.46,383.41 L186.18,385.46 L186.90,386.33 L187.62,385.39 L188.33,385.86 L189.05,387.78 L189.77,387.92 L190.49,387.07 L191.21,388.26 L191.92,389.91 L192.64,389.40 L193.36,389.01 L194.08,390.87 L194.80,392.08 L195.51,391.33 L196.23,391.72 L196.95,393.79 L197.67,394.28 L198.39,393.50 L199.10,394.63 L199.82,396.53 L200.54,396.33 L201.26,395.70 L201.98,397.25 L202.69,398.46 L203.41,397.59 L204.13,397.59 L204.85,399.45 L205.57,399.96 L206.28,398.87 L207.00,399.48 L207.72,401.15 L208.44,400.81 L209.16,399.93 L209.87,401.20 L210.59,402.46 L211.31,401.57 L212.03,401.17 L212.75,402.77 L213.46,403.30 L214.18,402.10 L214.90,402.42 L215.62,404.08 L216.34,403.87 L217.05,402.81 L217.77,403.83 L218.49,405.17 L219.21,404.35 L219.93,403.76 L220.64,405.28 L221.36,406.01 L222.08,404.85 L222.80,404.96 L223.52,406.64 L224.23,406.64 L224.95,405.50 L225.67,406.33 L226.39,407.77 L227.11,407.07 L227.82,406.29 L228.54,407.66 L229.26,408.56 L229.98,407.43 L230.70,407.30 L231.41,408.94 L232.13,409.13 L232.85,407.92 L233.57,408.53 L234.29,410.07 L235.00,409.55 L235.72,408.63 L236.44,409.87 L237.16,410.86 L237.88,409.71 L238.59,409.27 L239.31,410.77 L240.03,411.07 L240.75,409.74 L241.47,410.03 L242.18,411.53 L242.90,411.10 L243.62,409.95 L244.34,410.94 L245.06,412.11 L245.77,411.11 L246.49,410.50 L247.21,411.95 L247.93,412.49 L248.65,411.19 L249.36,411.29 L250.08,412.85 L250.80,412.65 L251.52,411.39 L252.24,412.15 L252.95,413.40 L253.67,412.49 L254.39,411.66 L255.11,412.96 L255.83,413.64 L256.54,412.34 L257.26,412.18 L257.98,413.69 L258.70,413.71 L259.42,412.43 L260.13,413.05 L260.85,414.46 L261.57,413.78 L262.29,412.84 L263.01,414.07 L263.72,414.99 L264.44,413.83 L265.16,413.51 L265.88,415.05 L266.60,415.28" stroke="#000000"/>
<path d="M55.50,408.21 L56.22,408.14 L56.94,408.06 L57.66,407.92 L58.38,407.70 L59.09,407.43 L59.81,407.12 L60.53,406.79 L61.25,406.45 L61.97,406.10 L62.68,405.72 L63.40,405.30 L64.12,404.86 L64.84,404.38 L65.56,403.89 L66.27,403.36 L66.99,402.81 L67.71,402.22 L68.43,401.58 L69.15,400.91 L69.86,400.19 L70.58,399.43 L71.30,398.62 L72.02,397.76 L72.74,396.83 L73.45,395.82 L74.17,394.76 L74.89,393.63 L75.61,392.44 L76.33,391.18 L77.04,389.83 L77.76,388.38 L78.48,386.85 L79.20,385.25 L79.92,383.57 L80.63,381.84 L81.35,380.05 L82.07,378.17 L82.79,376.20 L83.51,374.11 L84.22,371.91 L84.94,369.56 L85.66,367.03 L86.38,364.19 L87.10,361.13 L87.81,357.93 L88.53,354.68 L89.25,351.18 L89.97,347.49 L90.69,344.10 L91.40,341.28 L92.12,338.79 L92.84,336.41 L93.56,333.90 L94.28,331.12 L94.99,328.20 L95.71,325.30 L96.43,322.59 L97.15,320.17 L97.87,317.86 L98.58,315.64 L99.30,313.49 L100.02,311.44 L100.74,309.48 L101.46,307.61 L102.17,305.84 L102.89,304.17 L103.61,302.55 L104.33,301.02 L105.05,299.58 L105.76,298.28 L106.48,297.15 L107.20,296.05 L107.92,294.93 L108.64,293.94 L109.35,293.19 L110.07,292.84 L110.79,292.86 L111.51,292.96 L112.23,293.12 L112.94,293.31 L113.66,293.69 L114.38,294.33 L115.10,295.12 L115.82,295.97 L116.53,296.76 L117.25,297.47 L117.97,298.18 L118.69,298.90 L119.41,299.63 L120.12,300.38 L120.84,301.14 L121.56,301.90 L122.28,302.63 L123.00,303.37 L123.71,304.13 L124.43,304.93 L125.15,305.79 L125.87,306.74 L126.59,307.81 L127.30,309.19 L128.02,310.86 L128.74,312.63 L129.46,314.27 L130.18,315.60 L130.89,316.67 L131.61,317.60 L132.33,318.43 L133.05,319.21 L133.77,319.98 L134.48,320.80 L135.20,321.70 L135.92,322.73 L136.64,323.94 L137.36,325.53 L138.07,327.49 L138.79,329.70 L139.51,332.03 L140.23,334.36 L140.95,336.56 L141.66,338.51 L142.38,340.08 L143.10,341.26 L143.82,342.35 L144.54,343.37 L145.25,344.32 L145.97,345.22 L146.69,346.06 L147.41,346.86 L148.13,347.61 L148.84,348.33 L149.56,349.03 L150.28,349.70 L151.00,350.36 L151.72,351.01 L152.43,351.66 L153.15,352.31 L153.87,352.98 L154.59,353.65 L155.31,354.36 L156.02,355.06 L156.74,355.76 L157.46,356.44 L158.18,357.11 L158.90,357.76 L159.61,358.42 L160.33,359.06 L161.05,359.70 L161.77,360.34 L162.49,360.97 L163.20,361.61 L163.92,362.25 L164.64,362.89 L165.36,363.53 L166.08,364.19 L166.79,364.85 L167.51,365.52 L168.23,366.21 L168.95,366.90 L169.67,367.62 L170.38,368.34 L171.10,369.07 L171.82,369.80 L172.54,370.54 L173.26,371.28 L173.97,372.02 L174.69,372.76 L175.41,373.50 L176.13,374.23 L176.85,374.95 L177.56,375.66 L178.28,376.36 L179.00,377.04 L179.72,377.71 L180.44,378.36 L181.15,378.99 L181.87,379.61 L182.59,380.23 L183.31,380.83 L184.03,381.43 L184.74,382.02 L185.46,382.60 L186.18,383.17 L186.90,383.74 L187.62,384.30 L188.33,384.86 L189.05,385.41 L189.77,385.96 L190.49,386.51 L191.21,387.05 L191.92,387.59 L192.64,388.13 L193.36,388.66 L194.08,389.20 L194.80,389.75 L195.51,390.30 L196.23,390.85 L196.95,391.40 L197.67,391.94 L198.39,392.49 L199.10,393.02 L199.82,393.55 L200.54,394.07 L201.26,394.57 L201.98,395.07 L202.69,395.54 L203.41,396.00 L204.13,396.43 L204.85,396.84 L205.57,397.23 L206.28,397.60 L207.00,397.95 L207.72,398.29 L208.44,398.62 L209.16,398.94 L209.87,399.24 L210.59,399.54 L211.31,399.84 L212.03,400.12 L212.75,400.40 L213.46,400.67 L214.18,400.93 L214.90,401.20 L215.62,401.45 L216.34,401.71 L217.05,401.96 L217.77,402.21 L218.49,402.46 L219.21,402.70 L219.93,402.95 L220.64,403.19 L221.36,403.43 L222.08,403.67 L222.80,403.90 L223.52,404.13 L224.23,404.36 L224.95,404.58 L225.67,404.80 L226.39,405.01 L227.11,405.22 L227.82,405.43 L228.54,405.63 L229.26,405.82 L229.98,406.01 L230.70,406.19 L231.41,406.36 L232.13,406.53 L232.85,406.70 L233.57,406.87 L234.29,407.04 L235.00,407.20 L235.72,407.37 L236.44,407.52 L237.16,407.68 L237.88,407.82 L238.59,407.97 L239.31,408.11 L240.03,408.24 L240.75,408.37 L241.47,408.49 L242.18,408.61 L242.90,408.72 L243.62,408.82 L244.34,408.91 L245.06,409.01 L245.77,409.10 L246.49,409.18 L247.21,409.27 L247.93,409.35 L248.65,409.43 L249.36,409.51 L250.08,409.59 L250.80,409.66 L251.52,409.73 L252.24,409.80 L252.95,409.87 L253.67,409.94 L254.39,410.00 L255.11,410.07 L255.83,410.13 L256.54,410.19 L257.26,410.25 L257.98,410.31 L258.70,410.37 L259.42,410.43 L260.13,410.48 L260.85,410.54 L261.57,410.59 L262.29,410.64 L263.01,410.69 L263.72,410.75 L264.44,410.80 L265.16,410.84 L265.88,410.88 L266.60,410.93" stroke="#FF6B6B"/>
</g>
<rect x="57.5" y="247.6" width="207.80" height="167.80" fill="none" stroke="#a2a2a2" stroke-width="0.9"/>
<line x1="71.30" y1="415.4" x2="71.30" y2="418.2" stroke="#a2a2a2" stroke-width="0.9"/>
<text x="71.30" y="429.60" font-size="9.9" text-anchor="middle" fill="#231f20" font-weight="normal" >500</text>
<line x1="143.10" y1="415.4" x2="143.10" y2="418.2" stroke="#a2a2a2" stroke-width="0.9"/>
<text x="143.10" y="429.60" font-size="9.9" text-anchor="middle" fill="#231f20" font-weight="normal" >600</text>
<line x1="214.90" y1="415.4" x2="214.90" y2="418.2" stroke="#a2a2a2" stroke-width="0.9"/>
<text x="214.90" y="429.60" font-size="9.9" text-anchor="middle" fill="#231f20" font-weight="normal" >700</text>
<line x1="54.5" y1="415.40" x2="57.5" y2="415.40" stroke="#a2a2a2" stroke-width="0.9"/>
<text x="50.40" y="418.90" font-size="9.9" text-anchor="end" fill="#231f20" font-weight="normal" >0</text>
<line x1="54.5" y1="255.60" x2="57.5" y2="255.60" stroke="#a2a2a2" stroke-width="0.9"/>
<text x="51.30" y="259.10" font-size="9.9" text-anchor="end" fill="#231f20" font-weight="normal" >1</text>
<text x="161.20" y="445.20" font-size="10.6" text-anchor="middle" fill="#231f20" font-weight="normal" textLength="85.4" lengthAdjust="spacingAndGlyphs" >Wavelength (nm)</text>
<text transform="translate(42.7,331.6) rotate(-90)" text-anchor="middle" font-size="11" fill="#231f20" textLength="109" lengthAdjust="spacingAndGlyphs">Normalized PL intensity</text>
<line x1="179" y1="259.70" x2="188.5" y2="259.70" stroke="#FF6B6B" stroke-width="1.6"/>
<text x="193.90" y="263.00" font-size="10.4" text-anchor="start" fill="#231f20" font-weight="normal" textLength="44.3" lengthAdjust="spacingAndGlyphs" >Proposed</text>
<line x1="179" y1="273.33" x2="188.5" y2="273.33" stroke="#FFCD66" stroke-width="1.6"/>
<text x="193.90" y="276.63" font-size="10.4" text-anchor="start" fill="#231f20" font-weight="normal" textLength="52.6" lengthAdjust="spacingAndGlyphs" >Noise2Void</text>
<line x1="179" y1="286.96" x2="188.5" y2="286.96" stroke="#06D6A0" stroke-width="1.6"/>
<text x="193.90" y="290.26" font-size="10.4" text-anchor="start" fill="#231f20" font-weight="normal" textLength="50.4" lengthAdjust="spacingAndGlyphs" >Noise2Fast</text>
<line x1="179" y1="300.59" x2="188.5" y2="300.59" stroke="#1186B1" stroke-width="1.6"/>
<text x="193.90" y="303.89" font-size="10.4" text-anchor="start" fill="#231f20" font-weight="normal" textLength="43.4" lengthAdjust="spacingAndGlyphs" >Self2Self</text>
<line x1="179" y1="314.22" x2="188.5" y2="314.22" stroke="#000000" stroke-width="1.6"/>
<text x="193.90" y="317.52" font-size="10.4" text-anchor="start" fill="#231f20" font-weight="normal" textLength="62.3" lengthAdjust="spacingAndGlyphs" >Ground truth</text>
<text x="194.50" y="367.70" font-size="10.4" text-anchor="start" fill="#231f20" font-weight="normal" textLength="55.0" lengthAdjust="spacingAndGlyphs" >Single pixel</text>
<text x="34.20" y="251.30" font-size="15" text-anchor="start" fill="#000" font-weight="bold" >c</text>
<rect x="365.9" y="397.0" width="24.10" height="18.50" fill="#FF6B6B"/>
<rect x="390.0" y="297.9" width="24.70" height="117.60" fill="#FFCD66"/>
<rect x="414.7" y="412.0" width="24.30" height="3.50" fill="#06D6A0"/>
<rect x="439.0" y="407.6" width="24.10" height="7.90" fill="#1186B1"/>
<rect x="500.1" y="279.1" width="24.30" height="136.40" fill="#FF6B6B"/>
<rect x="548.7" y="412.8" width="24.40" height="2.70" fill="#06D6A0"/>
<g transform="translate(536.7,405.7) rotate(45)"><rect x="-5.5" y="-1.8" width="11.0" height="3.6" rx="0.6" fill="#FFCD66"/><rect x="-1.8" y="-5.5" width="3.6" height="11.0" rx="0.6" fill="#FFCD66"/></g>
<g transform="translate(585.6,405.7) rotate(45)"><rect x="-5.5" y="-1.8" width="11.0" height="3.6" rx="0.6" fill="#1186B1"/><rect x="-1.8" y="-5.5" width="3.6" height="11.0" rx="0.6" fill="#1186B1"/></g>
<rect x="353.3" y="248.4" width="293.10" height="167.10" fill="none" stroke="#a2a2a2" stroke-width="0.9"/>
<line x1="350.3" y1="415.50" x2="353.3" y2="415.50" stroke="#a2a2a2" stroke-width="0.9"/>
<text x="346.70" y="419.00" font-size="9.9" text-anchor="end" fill="#231f20" font-weight="normal" >0</text>
<line x1="350.3" y1="364.80" x2="353.3" y2="364.80" stroke="#a2a2a2" stroke-width="0.9"/>
<text x="346.70" y="368.30" font-size="9.9" text-anchor="end" fill="#231f20" font-weight="normal" >10</text>
<line x1="350.3" y1="314.10" x2="353.3" y2="314.10" stroke="#a2a2a2" stroke-width="0.9"/>
<text x="346.70" y="317.60" font-size="9.9" text-anchor="end" fill="#231f20" font-weight="normal" >20</text>
<line x1="350.3" y1="263.40" x2="353.3" y2="263.40" stroke="#a2a2a2" stroke-width="0.9"/>
<text x="346.70" y="266.90" font-size="9.9" text-anchor="end" fill="#231f20" font-weight="normal" >30</text>
<line x1="414.7" y1="415.5" x2="414.7" y2="418.3" stroke="#a2a2a2" stroke-width="0.9"/>
<line x1="548.7" y1="415.5" x2="548.7" y2="418.3" stroke="#a2a2a2" stroke-width="0.9"/>
<text x="414.90" y="430.50" font-size="10.4" text-anchor="middle" fill="#231f20" font-weight="normal" textLength="105.8" lengthAdjust="spacingAndGlyphs" >400 × 400 × 176 (15%)</text>
<text x="548.30" y="430.50" font-size="10.4" text-anchor="middle" fill="#231f20" font-weight="normal" textLength="89.3" lengthAdjust="spacingAndGlyphs" >1,024 × 1,024 × 176</text>
<text x="548.80" y="442.30" font-size="10.4" text-anchor="middle" fill="#231f20" font-weight="normal" textLength="73.8" lengthAdjust="spacingAndGlyphs" >(100% full size)</text>
<text x="499.5" y="460" font-size="10.6" text-anchor="middle" fill="#231f20" textLength="142.2" lengthAdjust="spacingAndGlyphs">Image size (<tspan font-style="italic">H</tspan> × <tspan font-style="italic">W</tspan> × <tspan font-style="italic">C</tspan> in pixels)</text>
<text transform="translate(324.9,332.1) rotate(-90)" text-anchor="middle" font-size="11" fill="#231f20" textLength="143.8" lengthAdjust="spacingAndGlyphs">Speed (kilopixels per second)</text>
<rect x="547" y="261.70" width="20.9" height="7.1" fill="#FF6B6B"/>
<text x="573.20" y="268.80" font-size="10.4" text-anchor="start" fill="#231f20" font-weight="normal" textLength="44.3" lengthAdjust="spacingAndGlyphs" >Proposed</text>
<rect x="547" y="276.20" width="20.9" height="7.1" fill="#FFCD66"/>
<text x="573.20" y="283.30" font-size="10.4" text-anchor="start" fill="#231f20" font-weight="normal" textLength="54.3" lengthAdjust="spacingAndGlyphs" >Noise2Void</text>
<rect x="547" y="290.70" width="20.9" height="7.1" fill="#06D6A0"/>
<text x="573.20" y="297.80" font-size="10.4" text-anchor="start" fill="#231f20" font-weight="normal" textLength="52.2" lengthAdjust="spacingAndGlyphs" >Noise2Fast</text>
<rect x="547" y="305.20" width="20.9" height="7.1" fill="#1186B1"/>
<text x="573.20" y="312.30" font-size="10.4" text-anchor="start" fill="#231f20" font-weight="normal" textLength="42.6" lengthAdjust="spacingAndGlyphs" >Self2Self</text>
<text x="316.20" y="250.90" font-size="15" text-anchor="start" fill="#000" font-weight="bold" >d</text>
</svg></body></html>
